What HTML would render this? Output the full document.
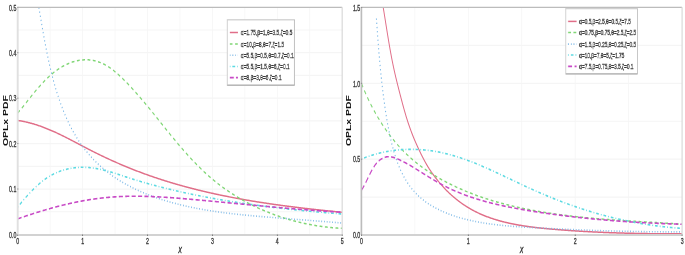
<!DOCTYPE html>
<html><head><meta charset="utf-8"><style>
html,body{margin:0;padding:0;background:#fff;overflow:hidden;}
svg{display:block;will-change:transform;filter:blur(0.25px);}
</style></head><body>
<svg width="685" height="255" viewBox="0 0 1070.312 255" preserveAspectRatio="none">
<defs>
<clipPath id="cl"><rect x="27.66" y="6.30" width="507.03" height="228.60"/></clipPath>
<clipPath id="cr"><rect x="564.69" y="6.30" width="501.09" height="228.60"/></clipPath>
</defs>
<g stroke="#f5f5f5" stroke-width="1.2"><line x1="78.36" y1="7.30" x2="78.36" y2="234.90"/><line x1="129.06" y1="7.30" x2="129.06" y2="234.90"/><line x1="179.77" y1="7.30" x2="179.77" y2="234.90"/><line x1="230.47" y1="7.30" x2="230.47" y2="234.90"/><line x1="281.17" y1="7.30" x2="281.17" y2="234.90"/><line x1="331.87" y1="7.30" x2="331.87" y2="234.90"/><line x1="382.58" y1="7.30" x2="382.58" y2="234.90"/><line x1="433.28" y1="7.30" x2="433.28" y2="234.90"/><line x1="483.98" y1="7.30" x2="483.98" y2="234.90"/><line x1="27.66" y1="211.74" x2="534.69" y2="211.74"/><line x1="27.66" y1="189.03" x2="534.69" y2="189.03"/><line x1="27.66" y1="166.31" x2="534.69" y2="166.31"/><line x1="27.66" y1="143.59" x2="534.69" y2="143.59"/><line x1="27.66" y1="120.88" x2="534.69" y2="120.88"/><line x1="27.66" y1="98.16" x2="534.69" y2="98.16"/><line x1="27.66" y1="75.44" x2="534.69" y2="75.44"/><line x1="27.66" y1="52.72" x2="534.69" y2="52.72"/><line x1="27.66" y1="30.01" x2="534.69" y2="30.01"/></g>
<g stroke="#f5f5f5" stroke-width="1.2"><line x1="648.20" y1="7.30" x2="648.20" y2="234.90"/><line x1="731.72" y1="7.30" x2="731.72" y2="234.90"/><line x1="815.23" y1="7.30" x2="815.23" y2="234.90"/><line x1="898.75" y1="7.30" x2="898.75" y2="234.90"/><line x1="982.27" y1="7.30" x2="982.27" y2="234.90"/><line x1="564.69" y1="197.15" x2="1065.78" y2="197.15"/><line x1="564.69" y1="159.20" x2="1065.78" y2="159.20"/><line x1="564.69" y1="121.25" x2="1065.78" y2="121.25"/><line x1="564.69" y1="83.30" x2="1065.78" y2="83.30"/><line x1="564.69" y1="45.35" x2="1065.78" y2="45.35"/></g>
<path d="M27.52,120.44 L28.57,120.54 L29.61,120.64 L30.64,120.75 L31.68,120.86 L32.71,120.97 L33.74,121.09 L34.77,121.21 L35.80,121.34 L36.82,121.47 L37.84,121.60 L38.86,121.74 L39.88,121.88 L40.89,122.03 L41.90,122.18 L42.91,122.33 L43.92,122.49 L44.92,122.65 L45.93,122.81 L46.93,122.98 L47.93,123.15 L48.93,123.32 L49.92,123.50 L50.92,123.68 L51.91,123.86 L52.90,124.05 L53.89,124.24 L54.87,124.43 L55.86,124.63 L56.84,124.83 L57.82,125.03 L58.80,125.24 L59.77,125.45 L60.75,125.66 L61.72,125.87 L62.70,126.09 L63.67,126.31 L64.63,126.53 L65.60,126.76 L66.57,126.98 L67.53,127.22 L68.49,127.45 L69.46,127.68 L70.41,127.92 L71.37,128.16 L72.33,128.41 L73.29,128.65 L74.24,128.90 L75.19,129.15 L76.14,129.40 L77.09,129.66 L78.04,129.91 L78.99,130.17 L79.94,130.43 L80.88,130.70 L81.83,130.96 L82.77,131.23 L83.71,131.50 L84.65,131.77 L85.59,132.04 L86.53,132.31 L87.47,132.59 L88.41,132.87 L89.34,133.14 L90.28,133.43 L91.21,133.71 L92.14,133.99 L93.08,134.28 L94.01,134.56 L94.94,134.85 L95.87,135.14 L96.80,135.43 L97.73,135.72 L98.65,136.02 L99.58,136.31 L100.51,136.61 L101.43,136.90 L102.36,137.20 L103.28,137.50 L104.21,137.80 L105.13,138.10 L106.05,138.40 L106.98,138.70 L107.90,139.00 L108.82,139.31 L109.74,139.61 L110.66,139.92 L111.58,140.22 L112.50,140.53 L113.42,140.84 L114.34,141.14 L115.26,141.45 L116.18,141.76 L117.10,142.07 L118.02,142.38 L118.94,142.69 L119.86,143.00 L120.78,143.31 L121.70,143.62 L122.61,143.93 L123.53,144.24 L124.45,144.55 L125.37,144.86 L126.29,145.17 L127.21,145.47 L128.12,145.78 L129.04,146.09 L129.96,146.40 L130.88,146.71 L131.80,147.02 L132.72,147.33 L133.64,147.64 L134.56,147.95 L135.48,148.25 L136.40,148.56 L137.32,148.86 L138.24,149.17 L139.17,149.47 L140.09,149.78 L141.01,150.08 L141.93,150.38 L142.86,150.69 L143.78,150.99 L144.71,151.29 L145.63,151.59 L146.56,151.88 L147.48,152.18 L148.41,152.48 L149.34,152.78 L150.27,153.07 L151.19,153.36 L152.12,153.66 L153.05,153.95 L153.98,154.24 L154.91,154.53 L155.84,154.82 L156.77,155.11 L157.71,155.40 L158.64,155.69 L159.57,155.97 L160.51,156.26 L161.44,156.54 L162.37,156.83 L163.31,157.11 L164.25,157.39 L165.18,157.68 L166.12,157.96 L167.06,158.24 L167.99,158.52 L168.93,158.79 L169.87,159.07 L170.81,159.35 L171.75,159.62 L172.69,159.90 L173.63,160.17 L174.57,160.44 L175.51,160.72 L176.46,160.99 L177.40,161.26 L178.34,161.53 L179.29,161.80 L180.23,162.07 L181.18,162.33 L182.12,162.60 L183.07,162.86 L184.02,163.13 L184.96,163.39 L185.91,163.65 L186.86,163.92 L187.81,164.18 L188.76,164.44 L189.71,164.70 L190.66,164.96 L191.61,165.21 L192.56,165.47 L193.51,165.73 L194.47,165.98 L195.42,166.24 L196.37,166.49 L197.33,166.74 L198.28,166.99 L199.24,167.24 L200.19,167.49 L201.15,167.74 L202.11,167.99 L203.06,168.24 L204.02,168.48 L204.98,168.73 L205.94,168.97 L206.90,169.22 L207.86,169.46 L208.82,169.70 L209.78,169.94 L210.74,170.19 L211.70,170.42 L212.67,170.66 L213.63,170.90 L214.59,171.14 L215.56,171.37 L216.52,171.61 L217.49,171.84 L218.46,172.08 L219.42,172.31 L220.39,172.54 L221.36,172.77 L222.32,173.00 L223.29,173.23 L224.26,173.46 L225.23,173.69 L226.20,173.91 L227.17,174.14 L228.15,174.36 L229.12,174.59 L230.09,174.81 L231.06,175.03 L232.04,175.25 L233.01,175.47 L233.99,175.69 L234.96,175.91 L235.94,176.13 L236.91,176.34 L237.89,176.56 L238.87,176.77 L239.85,176.99 L240.82,177.20 L241.80,177.41 L242.78,177.63 L243.76,177.84 L244.74,178.05 L245.72,178.26 L246.71,178.46 L247.69,178.67 L248.67,178.88 L249.65,179.08 L250.64,179.29 L251.62,179.49 L252.60,179.70 L253.59,179.90 L254.58,180.10 L255.56,180.30 L256.55,180.50 L257.53,180.70 L258.52,180.90 L259.51,181.09 L260.50,181.29 L261.49,181.49 L262.48,181.68 L263.47,181.88 L264.46,182.07 L265.45,182.26 L266.44,182.45 L267.43,182.64 L268.42,182.83 L269.41,183.02 L270.41,183.21 L271.40,183.40 L272.40,183.59 L273.39,183.77 L274.38,183.96 L275.38,184.14 L276.38,184.33 L277.37,184.51 L278.37,184.69 L279.36,184.87 L280.36,185.06 L281.36,185.24 L282.36,185.41 L283.36,185.59 L284.36,185.77 L285.36,185.95 L286.35,186.12 L287.36,186.30 L288.36,186.48 L289.36,186.65 L290.36,186.82 L291.36,186.99 L292.36,187.17 L293.37,187.34 L294.37,187.51 L295.37,187.68 L296.38,187.85 L297.38,188.01 L298.38,188.18 L299.39,188.35 L300.39,188.52 L301.40,188.68 L302.41,188.84 L303.41,189.01 L304.42,189.17 L305.43,189.33 L306.43,189.50 L307.44,189.66 L308.45,189.82 L309.46,189.98 L310.47,190.14 L311.48,190.29 L312.49,190.45 L313.50,190.61 L314.51,190.77 L315.52,190.92 L316.53,191.08 L317.54,191.23 L318.55,191.38 L319.56,191.54 L320.58,191.69 L321.59,191.84 L322.60,191.99 L323.62,192.14 L324.63,192.29 L325.64,192.44 L326.66,192.59 L327.67,192.73 L328.69,192.88 L329.70,193.03 L330.72,193.17 L331.73,193.32 L332.75,193.46 L333.77,193.61 L334.78,193.75 L335.80,193.89 L336.82,194.03 L337.83,194.17 L338.85,194.31 L339.87,194.45 L340.89,194.59 L341.91,194.73 L342.93,194.87 L343.94,195.01 L344.96,195.14 L345.98,195.28 L347.00,195.41 L348.02,195.55 L349.04,195.68 L350.06,195.82 L351.09,195.95 L352.11,196.08 L353.13,196.21 L354.15,196.35 L355.17,196.48 L356.19,196.61 L357.22,196.74 L358.24,196.87 L359.26,196.99 L360.29,197.12 L361.31,197.25 L362.33,197.38 L363.36,197.50 L364.38,197.63 L365.41,197.75 L366.43,197.88 L367.45,198.00 L368.48,198.12 L369.50,198.25 L370.53,198.37 L371.56,198.49 L372.58,198.61 L373.61,198.73 L374.63,198.85 L375.66,198.97 L376.69,199.09 L377.71,199.21 L378.74,199.32 L379.77,199.44 L380.79,199.56 L381.82,199.67 L382.85,199.79 L383.88,199.90 L384.90,200.02 L385.93,200.13 L386.96,200.25 L387.99,200.36 L389.02,200.47 L390.05,200.58 L391.08,200.69 L392.11,200.81 L393.13,200.92 L394.16,201.03 L395.19,201.13 L396.22,201.24 L397.25,201.35 L398.28,201.46 L399.31,201.57 L400.34,201.67 L401.37,201.78 L402.40,201.89 L403.43,201.99 L404.47,202.10 L405.50,202.20 L406.53,202.31 L407.56,202.41 L408.59,202.51 L409.62,202.61 L410.65,202.72 L411.68,202.82 L412.72,202.92 L413.75,203.02 L414.78,203.12 L415.81,203.22 L416.84,203.32 L417.88,203.42 L418.91,203.52 L419.94,203.61 L420.97,203.71 L422.01,203.81 L423.04,203.91 L424.07,204.00 L425.10,204.10 L426.14,204.19 L427.17,204.29 L428.20,204.38 L429.24,204.48 L430.27,204.57 L431.30,204.66 L432.33,204.76 L433.37,204.85 L434.40,204.94 L435.43,205.03 L436.47,205.12 L437.50,205.21 L438.54,205.31 L439.57,205.40 L440.60,205.48 L441.64,205.57 L442.67,205.66 L443.70,205.75 L444.74,205.84 L445.77,205.93 L446.81,206.01 L447.84,206.10 L448.87,206.19 L449.91,206.27 L450.94,206.36 L451.97,206.44 L453.01,206.53 L454.04,206.61 L455.08,206.70 L456.11,206.78 L457.14,206.87 L458.18,206.95 L459.21,207.03 L460.25,207.11 L461.28,207.20 L462.31,207.28 L463.35,207.36 L464.38,207.44 L465.42,207.52 L466.45,207.60 L467.48,207.68 L468.52,207.76 L469.55,207.84 L470.58,207.92 L471.62,208.00 L472.65,208.08 L473.68,208.15 L474.72,208.23 L475.75,208.31 L476.79,208.39 L477.82,208.46 L478.85,208.54 L479.89,208.62 L480.92,208.69 L481.95,208.77 L482.99,208.84 L484.02,208.92 L485.05,208.99 L486.08,209.07 L487.12,209.14 L488.15,209.21 L489.18,209.29 L490.22,209.36 L491.25,209.43 L492.28,209.51 L493.31,209.58 L494.34,209.65 L495.38,209.72 L496.41,209.79 L497.44,209.86 L498.47,209.94 L499.50,210.01 L500.54,210.08 L501.57,210.15 L502.60,210.22 L503.63,210.29 L504.66,210.36 L505.69,210.42 L506.72,210.49 L507.76,210.56 L508.79,210.63 L509.82,210.70 L510.85,210.77 L511.88,210.83 L512.91,210.90 L513.94,210.97 L514.97,211.04 L516.00,211.10 L517.03,211.17 L518.06,211.24 L519.09,211.30 L520.12,211.37 L521.15,211.43 L522.17,211.50 L523.20,211.56 L524.23,211.63 L525.26,211.69 L526.29,211.76 L527.32,211.82 L528.35,211.89 L529.37,211.95 L530.40,212.01 L531.43,212.08 L532.46,212.14 L533.48,212.20 L534.51,212.27" fill="none" stroke="#e06e88" stroke-width="1.5" clip-path="url(#cl)"/>
<path d="M27.49,113.09 L28.16,112.60 L28.82,112.11 L29.47,111.62 L30.13,111.13 L30.79,110.63 L31.44,110.14 L32.09,109.64 L32.75,109.14 L33.40,108.63 L34.05,108.13 L34.70,107.62 L35.34,107.11 L35.99,106.60 L36.64,106.09 L37.29,105.57 L37.93,105.06 L38.58,104.54 L39.22,104.03 L39.87,103.51 L40.52,102.99 L41.16,102.47 L41.81,101.94 L42.46,101.42 L43.10,100.90 L43.75,100.38 L44.40,99.85 L45.05,99.33 L45.70,98.80 L46.35,98.28 L47.00,97.75 L47.65,97.22 L48.31,96.70 L48.96,96.17 L49.62,95.65 L50.28,95.12 L50.94,94.60 L51.60,94.07 L52.26,93.55 L52.92,93.02 L53.59,92.50 L54.26,91.98 L54.93,91.46 L55.60,90.94 L56.28,90.42 L56.96,89.90 L57.64,89.38 L58.32,88.86 L59.01,88.35 L59.70,87.83 L60.39,87.32 L61.08,86.81 L61.78,86.30 L62.48,85.79 L63.18,85.29 L63.89,84.78 L64.60,84.28 L65.32,83.78 L66.03,83.28 L66.76,82.79 L67.48,82.30 L68.21,81.80 L68.94,81.32 L69.68,80.83 L70.42,80.35 L71.17,79.87 L71.92,79.39 L72.67,78.91 L73.43,78.44 L74.19,77.98 L74.96,77.51 L75.73,77.05 L76.50,76.59 L77.28,76.14 L78.07,75.69 L78.85,75.24 L79.64,74.80 L80.44,74.36 L81.24,73.93 L82.04,73.50 L82.85,73.07 L83.67,72.65 L84.48,72.23 L85.30,71.82 L86.13,71.42 L86.96,71.01 L87.79,70.62 L88.63,70.23 L89.48,69.84 L90.33,69.46 L91.18,69.09 L92.04,68.72 L92.90,68.35 L93.76,68.00 L94.63,67.65 L95.51,67.30 L96.39,66.96 L97.27,66.63 L98.16,66.30 L99.05,65.98 L99.95,65.67 L100.85,65.36 L101.76,65.06 L102.67,64.77 L103.59,64.49 L104.51,64.21 L105.44,63.94 L106.37,63.67 L107.30,63.42 L108.24,63.17 L109.19,62.93 L110.14,62.70 L111.09,62.47 L112.05,62.26 L113.02,62.05 L113.98,61.85 L114.96,61.66 L115.94,61.48 L116.92,61.30 L117.91,61.14 L118.90,60.98 L119.90,60.83 L120.91,60.69 L121.91,60.57 L122.93,60.45 L123.94,60.34 L124.97,60.24 L125.99,60.14 L127.02,60.06 L128.05,59.99 L129.08,59.93 L130.11,59.88 L131.15,59.84 L132.18,59.81 L133.22,59.79 L134.25,59.78 L135.29,59.78 L136.32,59.79 L137.35,59.81 L138.38,59.85 L139.41,59.89 L140.43,59.95 L141.45,60.01 L142.47,60.09 L143.48,60.18 L144.49,60.28 L145.49,60.40 L146.49,60.52 L147.48,60.66 L148.46,60.81 L149.44,60.97 L150.41,61.14 L151.38,61.32 L152.35,61.51 L153.30,61.71 L154.26,61.93 L155.20,62.15 L156.15,62.38 L157.08,62.62 L158.02,62.88 L158.94,63.14 L159.87,63.41 L160.78,63.69 L161.70,63.98 L162.60,64.27 L163.51,64.58 L164.40,64.89 L165.30,65.21 L166.18,65.54 L167.07,65.88 L167.95,66.22 L168.82,66.57 L169.69,66.93 L170.56,67.30 L171.42,67.67 L172.28,68.05 L173.13,68.43 L173.98,68.82 L174.82,69.22 L175.66,69.62 L176.50,70.03 L177.33,70.45 L178.16,70.86 L178.98,71.29 L179.80,71.72 L180.62,72.15 L181.43,72.59 L182.24,73.03 L183.04,73.48 L183.84,73.93 L184.64,74.38 L185.43,74.84 L186.22,75.30 L187.01,75.76 L187.79,76.23 L188.57,76.69 L189.34,77.17 L190.11,77.64 L190.88,78.12 L191.65,78.59 L192.41,79.07 L193.17,79.56 L193.93,80.04 L194.68,80.52 L195.43,81.01 L196.18,81.49 L196.92,81.98 L197.66,82.47 L198.40,82.96 L199.13,83.44 L199.87,83.93 L200.60,84.42 L201.32,84.91 L202.05,85.40 L202.77,85.89 L203.49,86.38 L204.20,86.87 L204.92,87.36 L205.63,87.86 L206.34,88.35 L207.04,88.84 L207.75,89.33 L208.45,89.83 L209.15,90.32 L209.85,90.82 L210.54,91.31 L211.24,91.81 L211.93,92.30 L212.62,92.80 L213.31,93.30 L213.99,93.80 L214.68,94.29 L215.36,94.79 L216.04,95.29 L216.72,95.79 L217.39,96.29 L218.07,96.79 L218.74,97.29 L219.41,97.79 L220.08,98.29 L220.75,98.79 L221.42,99.29 L222.09,99.80 L222.75,100.30 L223.42,100.80 L224.08,101.31 L224.74,101.81 L225.40,102.32 L226.06,102.82 L226.72,103.33 L227.37,103.83 L228.03,104.34 L228.68,104.84 L229.34,105.35 L229.99,105.86 L230.64,106.37 L231.29,106.88 L231.95,107.38 L232.60,107.89 L233.25,108.40 L233.89,108.91 L234.54,109.42 L235.19,109.93 L235.84,110.44 L236.49,110.96 L237.13,111.47 L237.78,111.98 L238.43,112.49 L239.07,113.01 L239.72,113.52 L240.37,114.03 L241.01,114.55 L241.66,115.06 L242.30,115.58 L242.95,116.09 L243.59,116.61 L244.24,117.12 L244.89,117.64 L245.53,118.16 L246.18,118.67 L246.83,119.19 L247.47,119.71 L248.12,120.23 L248.77,120.75 L249.42,121.26 L250.06,121.78 L250.71,122.30 L251.36,122.82 L252.01,123.34 L252.66,123.86 L253.31,124.38 L253.96,124.90 L254.61,125.42 L255.26,125.94 L255.91,126.46 L256.56,126.98 L257.21,127.50 L257.86,128.02 L258.52,128.54 L259.17,129.06 L259.82,129.58 L260.48,130.10 L261.13,130.62 L261.79,131.14 L262.44,131.66 L263.10,132.18 L263.76,132.70 L264.42,133.21 L265.07,133.73 L265.73,134.25 L266.39,134.77 L267.05,135.29 L267.71,135.81 L268.38,136.32 L269.04,136.84 L269.70,137.36 L270.37,137.88 L271.03,138.39 L271.70,138.91 L272.36,139.43 L273.03,139.94 L273.70,140.46 L274.37,140.97 L275.04,141.49 L275.71,142.00 L276.38,142.51 L277.05,143.03 L277.73,143.54 L278.40,144.05 L279.08,144.56 L279.76,145.07 L280.43,145.58 L281.11,146.09 L281.79,146.60 L282.47,147.11 L283.15,147.62 L283.84,148.12 L284.52,148.63 L285.21,149.14 L285.89,149.64 L286.58,150.15 L287.27,150.65 L287.96,151.15 L288.65,151.66 L289.34,152.16 L290.04,152.66 L290.73,153.16 L291.43,153.66 L292.13,154.15 L292.82,154.65 L293.53,155.15 L294.23,155.64 L294.93,156.14 L295.63,156.63 L296.34,157.12 L297.05,157.62 L297.76,158.11 L298.47,158.60 L299.18,159.08 L299.89,159.57 L300.60,160.06 L301.32,160.54 L302.04,161.03 L302.76,161.51 L303.48,161.99 L304.20,162.47 L304.92,162.95 L305.65,163.43 L306.38,163.91 L307.10,164.39 L307.83,164.86 L308.57,165.34 L309.30,165.81 L310.04,166.28 L310.77,166.75 L311.51,167.22 L312.25,167.69 L313.00,168.15 L313.74,168.62 L314.49,169.08 L315.23,169.54 L315.98,170.00 L316.73,170.46 L317.49,170.92 L318.24,171.37 L319.00,171.83 L319.76,172.28 L320.52,172.73 L321.28,173.18 L322.05,173.63 L322.82,174.08 L323.59,174.53 L324.36,174.97 L325.13,175.41 L325.91,175.85 L326.68,176.29 L327.46,176.73 L328.24,177.16 L329.03,177.60 L329.81,178.03 L330.60,178.46 L331.39,178.89 L332.18,179.32 L332.98,179.74 L333.77,180.16 L334.57,180.59 L335.37,181.01 L336.18,181.42 L336.98,181.84 L337.79,182.25 L338.60,182.67 L339.41,183.08 L340.23,183.49 L341.04,183.89 L341.86,184.30 L342.68,184.70 L343.50,185.10 L344.33,185.50 L345.16,185.90 L345.98,186.30 L346.82,186.69 L347.65,187.08 L348.48,187.48 L349.32,187.86 L350.16,188.25 L351.00,188.64 L351.84,189.02 L352.69,189.40 L353.53,189.78 L354.38,190.16 L355.23,190.54 L356.09,190.91 L356.94,191.28 L357.80,191.66 L358.66,192.02 L359.52,192.39 L360.38,192.76 L361.25,193.12 L362.11,193.48 L362.98,193.84 L363.85,194.20 L364.72,194.56 L365.59,194.91 L366.47,195.26 L367.35,195.62 L368.23,195.96 L369.11,196.31 L369.99,196.66 L370.87,197.00 L371.76,197.34 L372.65,197.68 L373.54,198.02 L374.43,198.36 L375.32,198.69 L376.22,199.02 L377.11,199.36 L378.01,199.68 L378.91,200.01 L379.81,200.34 L380.72,200.66 L381.62,200.98 L382.53,201.30 L383.44,201.62 L384.35,201.94 L385.26,202.25 L386.17,202.56 L387.09,202.87 L388.00,203.18 L388.92,203.49 L389.84,203.80 L390.76,204.10 L391.69,204.40 L392.61,204.70 L393.53,205.00 L394.46,205.29 L395.39,205.59 L396.32,205.88 L397.25,206.17 L398.19,206.46 L399.12,206.75 L400.06,207.03 L400.99,207.32 L401.93,207.60 L402.87,207.88 L403.82,208.15 L404.76,208.43 L405.70,208.70 L406.65,208.98 L407.60,209.25 L408.54,209.51 L409.49,209.78 L410.45,210.05 L411.40,210.31 L412.35,210.57 L413.31,210.83 L414.27,211.09 L415.22,211.34 L416.18,211.60 L417.14,211.85 L418.11,212.10 L419.07,212.35 L420.03,212.59 L421.00,212.84 L421.96,213.08 L422.93,213.32 L423.90,213.56 L424.87,213.80 L425.84,214.03 L426.82,214.26 L427.79,214.50 L428.77,214.73 L429.74,214.95 L430.72,215.18 L431.70,215.40 L432.68,215.63 L433.66,215.85 L434.64,216.06 L435.62,216.28 L436.61,216.50 L437.59,216.71 L438.58,216.92 L439.57,217.13 L440.55,217.34 L441.54,217.54 L442.53,217.74 L443.52,217.95 L444.52,218.15 L445.51,218.34 L446.50,218.54 L447.50,218.73 L448.49,218.93 L449.49,219.12 L450.49,219.31 L451.49,219.49 L452.49,219.68 L453.49,219.86 L454.49,220.04 L455.49,220.22 L456.50,220.40 L457.50,220.57 L458.51,220.75 L459.51,220.92 L460.52,221.09 L461.53,221.26 L462.53,221.42 L463.54,221.59 L464.55,221.75 L465.56,221.91 L466.58,222.07 L467.59,222.23 L468.60,222.38 L469.62,222.53 L470.63,222.69 L471.64,222.84 L472.66,222.98 L473.68,223.13 L474.69,223.27 L475.71,223.41 L476.73,223.55 L477.75,223.69 L478.77,223.83 L479.79,223.96 L480.81,224.09 L481.83,224.23 L482.86,224.35 L483.88,224.48 L484.90,224.61 L485.93,224.73 L486.95,224.85 L487.98,224.97 L489.00,225.09 L490.03,225.20 L491.06,225.31 L492.09,225.43 L493.11,225.54 L494.14,225.64 L495.17,225.75 L496.20,225.85 L497.23,225.96 L498.26,226.06 L499.29,226.16 L500.32,226.25 L501.36,226.35 L502.39,226.44 L503.42,226.53 L504.45,226.62 L505.49,226.71 L506.52,226.79 L507.56,226.87 L508.59,226.96 L509.63,227.04 L510.66,227.11 L511.70,227.19 L512.73,227.26 L513.77,227.33 L514.80,227.40 L515.84,227.47 L516.88,227.54 L517.92,227.60 L518.95,227.66 L519.99,227.73 L521.03,227.78 L522.07,227.84 L523.11,227.90 L524.15,227.95 L525.18,228.00 L526.22,228.05 L527.26,228.09 L528.30,228.14 L529.34,228.18 L530.38,228.22 L531.42,228.26 L532.46,228.30 L533.50,228.34 L534.54,228.37" fill="none" stroke="#80d676" stroke-width="1.5" stroke-dasharray="4.4,3.9" clip-path="url(#cl)"/>
<path d="M60.74,7.43 L60.91,8.08 L61.08,8.72 L61.25,9.37 L61.42,10.01 L61.59,10.66 L61.76,11.30 L61.93,11.95 L62.10,12.59 L62.27,13.24 L62.44,13.89 L62.61,14.53 L62.79,15.18 L62.96,15.83 L63.13,16.48 L63.30,17.13 L63.47,17.77 L63.64,18.42 L63.81,19.07 L63.98,19.72 L64.15,20.37 L64.33,21.02 L64.50,21.67 L64.67,22.32 L64.84,22.97 L65.02,23.62 L65.19,24.27 L65.36,24.92 L65.54,25.58 L65.71,26.23 L65.89,26.88 L66.06,27.53 L66.24,28.18 L66.42,28.84 L66.59,29.49 L66.77,30.14 L66.95,30.79 L67.13,31.45 L67.31,32.10 L67.49,32.75 L67.67,33.40 L67.85,34.06 L68.03,34.71 L68.21,35.37 L68.39,36.02 L68.58,36.67 L68.76,37.33 L68.95,37.98 L69.13,38.63 L69.32,39.29 L69.51,39.94 L69.70,40.60 L69.89,41.25 L70.08,41.91 L70.27,42.56 L70.46,43.21 L70.65,43.87 L70.84,44.52 L71.04,45.18 L71.23,45.83 L71.43,46.49 L71.63,47.14 L71.83,47.80 L72.03,48.45 L72.23,49.10 L72.43,49.76 L72.63,50.41 L72.83,51.07 L73.04,51.72 L73.25,52.38 L73.45,53.03 L73.66,53.69 L73.87,54.34 L74.08,54.99 L74.29,55.65 L74.51,56.30 L74.72,56.96 L74.94,57.61 L75.15,58.26 L75.37,58.92 L75.59,59.57 L75.81,60.22 L76.04,60.88 L76.26,61.53 L76.49,62.18 L76.71,62.84 L76.94,63.49 L77.17,64.14 L77.40,64.79 L77.63,65.45 L77.87,66.10 L78.10,66.75 L78.34,67.40 L78.58,68.05 L78.82,68.71 L79.06,69.36 L79.31,70.01 L79.55,70.66 L79.80,71.31 L80.05,71.96 L80.30,72.61 L80.55,73.26 L80.80,73.91 L81.06,74.56 L81.32,75.21 L81.58,75.86 L81.84,76.51 L82.10,77.15 L82.36,77.80 L82.63,78.45 L82.90,79.10 L83.17,79.75 L83.44,80.39 L83.72,81.04 L83.99,81.69 L84.27,82.33 L84.55,82.98 L84.83,83.62 L85.12,84.27 L85.40,84.91 L85.69,85.56 L85.98,86.20 L86.27,86.85 L86.57,87.49 L86.87,88.13 L87.16,88.78 L87.47,89.42 L87.77,90.06 L88.07,90.70 L88.38,91.34 L88.69,91.99 L89.00,92.63 L89.32,93.27 L89.64,93.91 L89.96,94.55 L90.28,95.18 L90.60,95.82 L90.93,96.46 L91.26,97.10 L91.59,97.73 L91.92,98.37 L92.26,99.01 L92.60,99.64 L92.94,100.27 L93.28,100.91 L93.63,101.54 L93.98,102.17 L94.33,102.80 L94.68,103.44 L95.04,104.07 L95.40,104.70 L95.76,105.32 L96.13,105.95 L96.49,106.58 L96.87,107.21 L97.24,107.83 L97.61,108.46 L97.99,109.08 L98.38,109.70 L98.76,110.33 L99.15,110.95 L99.54,111.57 L99.93,112.19 L100.33,112.80 L100.73,113.42 L101.13,114.04 L101.53,114.65 L101.94,115.27 L102.35,115.88 L102.77,116.49 L103.19,117.10 L103.61,117.71 L104.03,118.32 L104.46,118.93 L104.89,119.54 L105.32,120.14 L105.76,120.75 L106.20,121.35 L106.64,121.95 L107.09,122.55 L107.54,123.15 L107.99,123.75 L108.45,124.35 L108.91,124.94 L109.37,125.54 L109.84,126.13 L110.31,126.72 L110.78,127.31 L111.26,127.90 L111.74,128.49 L112.22,129.08 L112.71,129.66 L113.20,130.24 L113.70,130.82 L114.19,131.40 L114.70,131.98 L115.20,132.56 L115.71,133.14 L116.22,133.71 L116.74,134.28 L117.26,134.85 L117.79,135.42 L118.31,135.99 L118.85,136.56 L119.38,137.12 L119.92,137.68 L120.47,138.24 L121.01,138.80 L121.56,139.36 L122.12,139.92 L122.68,140.47 L123.24,141.02 L123.81,141.57 L124.38,142.12 L124.95,142.67 L125.53,143.21 L126.12,143.75 L126.70,144.30 L127.30,144.83 L127.89,145.37 L128.49,145.91 L129.09,146.44 L129.70,146.97 L130.31,147.50 L130.93,148.03 L131.55,148.55 L132.18,149.08 L132.81,149.60 L133.44,150.12 L134.08,150.63 L134.72,151.15 L135.37,151.66 L136.02,152.17 L136.67,152.68 L137.33,153.19 L138.00,153.69 L138.66,154.19 L139.34,154.69 L140.01,155.19 L140.69,155.69 L141.38,156.18 L142.06,156.67 L142.76,157.16 L143.45,157.65 L144.15,158.13 L144.86,158.61 L145.56,159.09 L146.28,159.57 L146.99,160.05 L147.71,160.52 L148.43,160.99 L149.16,161.46 L149.89,161.92 L150.63,162.39 L151.37,162.85 L152.11,163.31 L152.85,163.76 L153.60,164.22 L154.35,164.67 L155.11,165.12 L155.87,165.57 L156.63,166.01 L157.40,166.45 L158.17,166.89 L158.94,167.33 L159.72,167.76 L160.50,168.19 L161.29,168.62 L162.07,169.05 L162.86,169.47 L163.66,169.90 L164.46,170.31 L165.26,170.73 L166.06,171.15 L166.87,171.56 L167.68,171.97 L168.49,172.37 L169.31,172.77 L170.13,173.18 L170.95,173.57 L171.77,173.97 L172.60,174.36 L173.43,174.75 L174.27,175.14 L175.11,175.53 L175.95,175.91 L176.79,176.29 L177.64,176.67 L178.49,177.04 L179.34,177.41 L180.19,177.78 L181.05,178.15 L181.91,178.51 L182.77,178.88 L183.64,179.24 L184.51,179.59 L185.38,179.95 L186.25,180.30 L187.13,180.65 L188.01,181.00 L188.89,181.34 L189.77,181.68 L190.66,182.02 L191.55,182.36 L192.44,182.70 L193.33,183.03 L194.23,183.36 L195.13,183.69 L196.03,184.01 L196.93,184.34 L197.83,184.66 L198.74,184.98 L199.65,185.29 L200.56,185.61 L201.48,185.92 L202.39,186.23 L203.31,186.54 L204.23,186.84 L205.16,187.15 L206.08,187.45 L207.01,187.74 L207.94,188.04 L208.87,188.33 L209.80,188.63 L210.74,188.92 L211.67,189.20 L212.61,189.49 L213.55,189.77 L214.50,190.05 L215.44,190.33 L216.39,190.61 L217.33,190.88 L218.28,191.16 L219.23,191.43 L220.19,191.69 L221.14,191.96 L222.10,192.22 L223.06,192.49 L224.01,192.75 L224.98,193.01 L225.94,193.26 L226.90,193.52 L227.87,193.77 L228.84,194.02 L229.80,194.27 L230.77,194.51 L231.74,194.76 L232.72,195.00 L233.69,195.24 L234.67,195.48 L235.64,195.71 L236.62,195.95 L237.60,196.18 L238.58,196.41 L239.56,196.64 L240.55,196.87 L241.53,197.09 L242.51,197.32 L243.50,197.54 L244.49,197.76 L245.48,197.98 L246.46,198.19 L247.45,198.41 L248.45,198.62 L249.44,198.83 L250.43,199.04 L251.42,199.25 L252.42,199.46 L253.41,199.66 L254.41,199.86 L255.41,200.06 L256.41,200.26 L257.41,200.46 L258.40,200.65 L259.40,200.85 L260.41,201.04 L261.41,201.23 L262.41,201.42 L263.41,201.61 L264.41,201.79 L265.42,201.98 L266.42,202.16 L267.43,202.34 L268.43,202.52 L269.44,202.70 L270.44,202.88 L271.45,203.05 L272.46,203.23 L273.46,203.40 L274.47,203.57 L275.48,203.74 L276.49,203.91 L277.50,204.07 L278.51,204.24 L279.52,204.40 L280.53,204.56 L281.54,204.72 L282.55,204.88 L283.56,205.04 L284.57,205.19 L285.58,205.35 L286.60,205.50 L287.61,205.65 L288.62,205.80 L289.64,205.95 L290.65,206.10 L291.67,206.25 L292.68,206.39 L293.70,206.54 L294.71,206.68 L295.73,206.82 L296.74,206.96 L297.76,207.10 L298.78,207.24 L299.79,207.37 L300.81,207.51 L301.83,207.64 L302.85,207.78 L303.87,207.91 L304.89,208.04 L305.91,208.17 L306.93,208.29 L307.95,208.42 L308.97,208.54 L309.99,208.67 L311.01,208.79 L312.03,208.91 L313.05,209.03 L314.07,209.15 L315.10,209.27 L316.12,209.39 L317.14,209.51 L318.16,209.62 L319.19,209.74 L320.21,209.85 L321.24,209.96 L322.26,210.07 L323.28,210.18 L324.31,210.29 L325.33,210.40 L326.36,210.50 L327.39,210.61 L328.41,210.71 L329.44,210.82 L330.47,210.92 L331.49,211.02 L332.52,211.12 L333.55,211.22 L334.57,211.32 L335.60,211.42 L336.63,211.52 L337.66,211.61 L338.69,211.71 L339.72,211.80 L340.75,211.90 L341.78,211.99 L342.80,212.08 L343.83,212.17 L344.86,212.26 L345.90,212.35 L346.93,212.44 L347.96,212.53 L348.99,212.62 L350.02,212.70 L351.05,212.79 L352.08,212.87 L353.11,212.96 L354.15,213.04 L355.18,213.12 L356.21,213.20 L357.24,213.28 L358.28,213.36 L359.31,213.44 L360.34,213.52 L361.38,213.60 L362.41,213.68 L363.44,213.75 L364.48,213.83 L365.51,213.91 L366.55,213.98 L367.58,214.05 L368.62,214.13 L369.65,214.20 L370.69,214.27 L371.72,214.34 L372.76,214.42 L373.79,214.49 L374.83,214.56 L375.86,214.62 L376.90,214.69 L377.94,214.76 L378.97,214.83 L380.01,214.90 L381.05,214.96 L382.08,215.03 L383.12,215.10 L384.16,215.16 L385.19,215.23 L386.23,215.29 L387.27,215.35 L388.31,215.42 L389.34,215.48 L390.38,215.54 L391.42,215.60 L392.46,215.67 L393.50,215.73 L394.53,215.79 L395.57,215.85 L396.61,215.91 L397.65,215.97 L398.69,216.03 L399.73,216.09 L400.76,216.15 L401.80,216.21 L402.84,216.26 L403.88,216.32 L404.92,216.38 L405.96,216.44 L407.00,216.49 L408.04,216.55 L409.08,216.61 L410.12,216.66 L411.16,216.72 L412.20,216.77 L413.24,216.83 L414.27,216.89 L415.31,216.94 L416.35,217.00 L417.39,217.05 L418.43,217.11 L419.47,217.16 L420.51,217.21 L421.55,217.27 L422.59,217.32 L423.63,217.38 L424.67,217.43 L425.71,217.48 L426.75,217.54 L427.79,217.59 L428.83,217.65 L429.87,217.70 L430.91,217.75 L431.95,217.81 L432.99,217.86 L434.03,217.91 L435.07,217.97 L436.11,218.02 L437.15,218.07 L438.19,218.12 L439.23,218.18 L440.27,218.23 L441.32,218.28 L442.36,218.34 L443.40,218.39 L444.44,218.44 L445.48,218.49 L446.51,218.55 L447.55,218.60 L448.59,218.65 L449.63,218.70 L450.67,218.76 L451.71,218.81 L452.75,218.86 L453.79,218.91 L454.83,218.96 L455.87,219.02 L456.91,219.07 L457.95,219.12 L458.99,219.17 L460.03,219.22 L461.07,219.28 L462.11,219.33 L463.15,219.38 L464.19,219.43 L465.23,219.48 L466.26,219.54 L467.30,219.59 L468.34,219.64 L469.38,219.69 L470.42,219.74 L471.46,219.80 L472.50,219.85 L473.53,219.90 L474.57,219.95 L475.61,220.00 L476.65,220.06 L477.69,220.11 L478.72,220.16 L479.76,220.21 L480.80,220.26 L481.84,220.32 L482.87,220.37 L483.91,220.42 L484.95,220.47 L485.98,220.52 L487.02,220.58 L488.06,220.63 L489.09,220.68 L490.13,220.73 L491.16,220.78 L492.20,220.84 L493.24,220.89 L494.27,220.94 L495.31,220.99 L496.34,221.05 L497.38,221.10 L498.41,221.15 L499.45,221.20 L500.48,221.25 L501.52,221.31 L502.55,221.36 L503.59,221.41 L504.62,221.46 L505.65,221.52 L506.69,221.57 L507.72,221.62 L508.75,221.68 L509.79,221.73 L510.82,221.78 L511.85,221.83 L512.88,221.89 L513.92,221.94 L514.95,221.99 L515.98,222.05 L517.01,222.10 L518.04,222.15 L519.07,222.21 L520.10,222.26 L521.13,222.31 L522.17,222.37 L523.20,222.42 L524.23,222.48 L525.26,222.53 L526.28,222.58 L527.31,222.64 L528.34,222.69 L529.37,222.75 L530.40,222.80 L531.43,222.86 L532.46,222.91 L533.48,222.97 L534.51,223.02" fill="none" stroke="#78b6e6" stroke-width="1.6" stroke-dasharray="1.3,2.95" clip-path="url(#cl)"/>
<path d="M27.53,207.02 L28.18,206.53 L28.84,206.03 L29.49,205.53 L30.15,205.02 L30.81,204.52 L31.48,204.02 L32.14,203.51 L32.81,203.01 L33.48,202.50 L34.15,201.99 L34.83,201.48 L35.50,200.98 L36.18,200.47 L36.87,199.96 L37.55,199.45 L38.24,198.94 L38.93,198.43 L39.62,197.93 L40.32,197.42 L41.01,196.91 L41.71,196.41 L42.42,195.90 L43.13,195.40 L43.84,194.89 L44.55,194.39 L45.27,193.89 L45.98,193.39 L46.71,192.89 L47.43,192.40 L48.16,191.90 L48.89,191.41 L49.63,190.92 L50.37,190.43 L51.11,189.95 L51.86,189.47 L52.61,188.98 L53.36,188.51 L54.12,188.03 L54.88,187.56 L55.65,187.09 L56.41,186.63 L57.19,186.16 L57.96,185.70 L58.74,185.25 L59.53,184.80 L60.32,184.35 L61.11,183.91 L61.90,183.47 L62.71,183.03 L63.51,182.60 L64.32,182.17 L65.13,181.75 L65.95,181.33 L66.78,180.92 L67.60,180.51 L68.43,180.11 L69.27,179.71 L70.11,179.32 L70.96,178.93 L71.81,178.55 L72.66,178.17 L73.52,177.80 L74.39,177.44 L75.26,177.08 L76.13,176.73 L77.01,176.38 L77.90,176.04 L78.79,175.71 L79.69,175.39 L80.59,175.07 L81.49,174.75 L82.40,174.45 L83.32,174.15 L84.24,173.85 L85.16,173.57 L86.09,173.29 L87.02,173.01 L87.96,172.75 L88.90,172.48 L89.84,172.23 L90.79,171.98 L91.75,171.74 L92.70,171.51 L93.66,171.28 L94.63,171.06 L95.59,170.84 L96.57,170.63 L97.54,170.43 L98.52,170.23 L99.50,170.04 L100.48,169.86 L101.47,169.68 L102.46,169.51 L103.45,169.35 L104.44,169.19 L105.44,169.04 L106.44,168.89 L107.44,168.75 L108.44,168.62 L109.45,168.49 L110.45,168.38 L111.46,168.26 L112.48,168.15 L113.49,168.05 L114.50,167.96 L115.52,167.87 L116.54,167.79 L117.55,167.71 L118.57,167.64 L119.60,167.58 L120.62,167.52 L121.64,167.47 L122.67,167.43 L123.69,167.39 L124.71,167.36 L125.74,167.33 L126.77,167.31 L127.79,167.30 L128.82,167.29 L129.85,167.29 L130.87,167.29 L131.90,167.30 L132.93,167.32 L133.95,167.34 L134.98,167.37 L136.01,167.41 L137.03,167.45 L138.06,167.50 L139.08,167.55 L140.10,167.61 L141.13,167.68 L142.15,167.75 L143.17,167.82 L144.19,167.90 L145.21,167.99 L146.23,168.08 L147.25,168.18 L148.27,168.28 L149.29,168.39 L150.31,168.50 L151.32,168.62 L152.34,168.74 L153.36,168.86 L154.37,168.99 L155.39,169.13 L156.40,169.26 L157.42,169.41 L158.43,169.55 L159.45,169.70 L160.46,169.86 L161.47,170.01 L162.48,170.17 L163.50,170.34 L164.51,170.50 L165.52,170.67 L166.53,170.85 L167.54,171.02 L168.55,171.20 L169.56,171.38 L170.57,171.56 L171.58,171.75 L172.59,171.94 L173.60,172.13 L174.60,172.32 L175.61,172.52 L176.62,172.71 L177.63,172.91 L178.63,173.11 L179.64,173.32 L180.64,173.52 L181.65,173.72 L182.66,173.93 L183.66,174.14 L184.67,174.35 L185.67,174.55 L186.68,174.76 L187.68,174.98 L188.68,175.19 L189.69,175.40 L190.69,175.61 L191.70,175.82 L192.70,176.04 L193.70,176.25 L194.70,176.46 L195.71,176.67 L196.71,176.89 L197.71,177.10 L198.71,177.31 L199.72,177.52 L200.72,177.73 L201.72,177.94 L202.72,178.15 L203.72,178.35 L204.72,178.56 L205.73,178.77 L206.73,178.97 L207.73,179.17 L208.73,179.37 L209.73,179.57 L210.73,179.77 L211.73,179.97 L212.73,180.17 L213.73,180.37 L214.74,180.56 L215.74,180.76 L216.74,180.95 L217.74,181.14 L218.74,181.34 L219.74,181.53 L220.74,181.72 L221.74,181.90 L222.74,182.09 L223.74,182.28 L224.74,182.46 L225.74,182.65 L226.75,182.83 L227.75,183.02 L228.75,183.20 L229.75,183.38 L230.75,183.56 L231.75,183.74 L232.75,183.92 L233.75,184.10 L234.76,184.28 L235.76,184.45 L236.76,184.63 L237.76,184.80 L238.76,184.98 L239.77,185.15 L240.77,185.32 L241.77,185.49 L242.78,185.66 L243.78,185.83 L244.78,186.00 L245.79,186.17 L246.79,186.34 L247.79,186.51 L248.80,186.67 L249.80,186.84 L250.81,187.00 L251.81,187.17 L252.82,187.33 L253.82,187.50 L254.83,187.66 L255.83,187.82 L256.84,187.98 L257.85,188.14 L258.85,188.30 L259.86,188.46 L260.87,188.62 L261.87,188.78 L262.88,188.94 L263.89,189.09 L264.90,189.25 L265.91,189.40 L266.92,189.56 L267.93,189.71 L268.94,189.87 L269.95,190.02 L270.96,190.17 L271.97,190.33 L272.98,190.48 L273.99,190.63 L275.00,190.78 L276.01,190.93 L277.02,191.08 L278.03,191.22 L279.05,191.37 L280.06,191.52 L281.07,191.67 L282.08,191.81 L283.10,191.96 L284.11,192.10 L285.12,192.25 L286.14,192.39 L287.15,192.53 L288.17,192.68 L289.18,192.82 L290.20,192.96 L291.21,193.10 L292.23,193.24 L293.24,193.38 L294.26,193.52 L295.28,193.66 L296.29,193.80 L297.31,193.94 L298.33,194.07 L299.34,194.21 L300.36,194.35 L301.38,194.48 L302.40,194.62 L303.41,194.75 L304.43,194.88 L305.45,195.02 L306.47,195.15 L307.49,195.28 L308.51,195.41 L309.53,195.54 L310.55,195.67 L311.57,195.80 L312.59,195.93 L313.61,196.06 L314.63,196.19 L315.65,196.32 L316.67,196.45 L317.69,196.57 L318.71,196.70 L319.73,196.82 L320.75,196.95 L321.78,197.07 L322.80,197.20 L323.82,197.32 L324.84,197.45 L325.86,197.57 L326.89,197.69 L327.91,197.81 L328.93,197.93 L329.96,198.05 L330.98,198.17 L332.00,198.29 L333.03,198.41 L334.05,198.53 L335.08,198.65 L336.10,198.77 L337.13,198.88 L338.15,199.00 L339.18,199.11 L340.20,199.23 L341.23,199.35 L342.25,199.46 L343.28,199.57 L344.30,199.69 L345.33,199.80 L346.36,199.91 L347.38,200.03 L348.41,200.14 L349.44,200.25 L350.46,200.36 L351.49,200.47 L352.52,200.58 L353.55,200.69 L354.57,200.80 L355.60,200.91 L356.63,201.01 L357.66,201.12 L358.68,201.23 L359.71,201.33 L360.74,201.44 L361.77,201.55 L362.80,201.65 L363.83,201.76 L364.86,201.86 L365.89,201.96 L366.92,202.07 L367.95,202.17 L368.97,202.27 L370.00,202.37 L371.03,202.48 L372.06,202.58 L373.09,202.68 L374.13,202.78 L375.16,202.88 L376.19,202.98 L377.22,203.07 L378.25,203.17 L379.28,203.27 L380.31,203.37 L381.34,203.47 L382.37,203.56 L383.40,203.66 L384.43,203.75 L385.47,203.85 L386.50,203.95 L387.53,204.04 L388.56,204.13 L389.59,204.23 L390.63,204.32 L391.66,204.41 L392.69,204.51 L393.72,204.60 L394.76,204.69 L395.79,204.78 L396.82,204.87 L397.85,204.96 L398.89,205.05 L399.92,205.14 L400.95,205.23 L401.99,205.32 L403.02,205.41 L404.05,205.50 L405.09,205.59 L406.12,205.67 L407.16,205.76 L408.19,205.85 L409.22,205.93 L410.26,206.02 L411.29,206.10 L412.33,206.19 L413.36,206.27 L414.39,206.36 L415.43,206.44 L416.46,206.53 L417.50,206.61 L418.53,206.69 L419.57,206.77 L420.60,206.86 L421.64,206.94 L422.67,207.02 L423.71,207.10 L424.74,207.18 L425.78,207.26 L426.81,207.34 L427.85,207.42 L428.88,207.50 L429.92,207.58 L430.95,207.66 L431.99,207.73 L433.02,207.81 L434.06,207.89 L435.09,207.97 L436.13,208.04 L437.17,208.12 L438.20,208.20 L439.24,208.27 L440.27,208.35 L441.31,208.42 L442.34,208.50 L443.38,208.57 L444.42,208.64 L445.45,208.72 L446.49,208.79 L447.52,208.86 L448.56,208.94 L449.60,209.01 L450.63,209.08 L451.67,209.15 L452.70,209.22 L453.74,209.30 L454.78,209.37 L455.81,209.44 L456.85,209.51 L457.89,209.58 L458.92,209.65 L459.96,209.72 L460.99,209.78 L462.03,209.85 L463.07,209.92 L464.10,209.99 L465.14,210.06 L466.18,210.12 L467.21,210.19 L468.25,210.26 L469.29,210.33 L470.32,210.39 L471.36,210.46 L472.39,210.52 L473.43,210.59 L474.47,210.65 L475.50,210.72 L476.54,210.78 L477.58,210.85 L478.61,210.91 L479.65,210.97 L480.69,211.04 L481.72,211.10 L482.76,211.16 L483.79,211.23 L484.83,211.29 L485.87,211.35 L486.90,211.41 L487.94,211.47 L488.98,211.54 L490.01,211.60 L491.05,211.66 L492.08,211.72 L493.12,211.78 L494.16,211.84 L495.19,211.90 L496.23,211.96 L497.26,212.02 L498.30,212.08 L499.34,212.13 L500.37,212.19 L501.41,212.25 L502.44,212.31 L503.48,212.37 L504.52,212.42 L505.55,212.48 L506.59,212.54 L507.62,212.60 L508.66,212.65 L509.69,212.71 L510.73,212.76 L511.76,212.82 L512.80,212.88 L513.83,212.93 L514.87,212.99 L515.90,213.04 L516.94,213.10 L517.97,213.15 L519.01,213.21 L520.04,213.26 L521.08,213.31 L522.11,213.37 L523.15,213.42 L524.18,213.47 L525.22,213.53 L526.25,213.58 L527.29,213.63 L528.32,213.68 L529.36,213.74 L530.39,213.79 L531.42,213.84 L532.46,213.89 L533.49,213.94 L534.53,214.00" fill="none" stroke="#5cdae2" stroke-width="1.6" stroke-dasharray="1.2,3.0,4.2,3.2" clip-path="url(#cl)"/>
<path d="M27.48,218.84 L28.47,218.62 L29.46,218.41 L30.45,218.19 L31.45,217.97 L32.44,217.76 L33.43,217.54 L34.42,217.33 L35.42,217.11 L36.41,216.90 L37.41,216.69 L38.40,216.47 L39.40,216.26 L40.39,216.05 L41.39,215.84 L42.38,215.63 L43.38,215.42 L44.37,215.21 L45.37,215.00 L46.37,214.79 L47.37,214.58 L48.36,214.37 L49.36,214.17 L50.36,213.96 L51.36,213.76 L52.36,213.55 L53.36,213.35 L54.36,213.14 L55.36,212.94 L56.36,212.74 L57.36,212.54 L58.36,212.34 L59.36,212.14 L60.36,211.94 L61.36,211.74 L62.36,211.54 L63.36,211.35 L64.37,211.15 L65.37,210.96 L66.37,210.76 L67.37,210.57 L68.38,210.38 L69.38,210.19 L70.39,210.00 L71.39,209.81 L72.39,209.62 L73.40,209.43 L74.40,209.24 L75.41,209.06 L76.42,208.87 L77.42,208.69 L78.43,208.51 L79.43,208.32 L80.44,208.14 L81.45,207.96 L82.46,207.79 L83.46,207.61 L84.47,207.43 L85.48,207.26 L86.49,207.08 L87.50,206.91 L88.50,206.74 L89.51,206.57 L90.52,206.40 L91.53,206.23 L92.54,206.06 L93.55,205.89 L94.56,205.73 L95.57,205.56 L96.58,205.40 L97.59,205.24 L98.61,205.08 L99.62,204.92 L100.63,204.76 L101.64,204.61 L102.65,204.45 L103.67,204.30 L104.68,204.15 L105.69,203.99 L106.71,203.84 L107.72,203.70 L108.73,203.55 L109.75,203.40 L110.76,203.26 L111.77,203.12 L112.79,202.97 L113.80,202.83 L114.82,202.69 L115.83,202.56 L116.85,202.42 L117.87,202.28 L118.88,202.15 L119.90,202.02 L120.92,201.89 L121.93,201.76 L122.95,201.63 L123.97,201.50 L124.98,201.38 L126.00,201.25 L127.02,201.13 L128.04,201.01 L129.05,200.89 L130.07,200.77 L131.09,200.66 L132.11,200.54 L133.13,200.43 L134.15,200.31 L135.17,200.20 L136.19,200.09 L137.21,199.99 L138.23,199.88 L139.25,199.77 L140.27,199.67 L141.29,199.57 L142.31,199.47 L143.33,199.37 L144.35,199.27 L145.37,199.17 L146.40,199.08 L147.42,198.99 L148.44,198.89 L149.46,198.80 L150.49,198.71 L151.51,198.63 L152.53,198.54 L153.55,198.46 L154.58,198.38 L155.60,198.29 L156.62,198.22 L157.65,198.14 L158.67,198.06 L159.70,197.99 L160.72,197.91 L161.75,197.84 L162.77,197.77 L163.79,197.70 L164.82,197.64 L165.84,197.57 L166.87,197.51 L167.90,197.45 L168.92,197.39 L169.95,197.33 L170.97,197.27 L172.00,197.21 L173.03,197.16 L174.05,197.11 L175.08,197.06 L176.11,197.01 L177.13,196.96 L178.16,196.92 L179.19,196.87 L180.22,196.83 L181.24,196.79 L182.27,196.75 L183.30,196.71 L184.33,196.67 L185.36,196.64 L186.39,196.61 L187.41,196.57 L188.44,196.54 L189.47,196.51 L190.50,196.49 L191.53,196.46 L192.56,196.44 L193.59,196.41 L194.62,196.39 L195.65,196.37 L196.68,196.35 L197.71,196.33 L198.74,196.32 L199.77,196.30 L200.80,196.29 L201.83,196.28 L202.86,196.27 L203.89,196.26 L204.92,196.25 L205.96,196.24 L206.99,196.24 L208.02,196.23 L209.05,196.23 L210.08,196.23 L211.11,196.23 L212.15,196.23 L213.18,196.23 L214.21,196.23 L215.24,196.23 L216.28,196.24 L217.31,196.25 L218.34,196.25 L219.37,196.26 L220.41,196.27 L221.44,196.28 L222.47,196.29 L223.51,196.31 L224.54,196.32 L225.57,196.34 L226.61,196.35 L227.64,196.37 L228.68,196.39 L229.71,196.41 L230.74,196.43 L231.78,196.45 L232.81,196.47 L233.85,196.49 L234.88,196.52 L235.92,196.54 L236.95,196.57 L237.99,196.59 L239.02,196.62 L240.06,196.65 L241.09,196.68 L242.13,196.71 L243.16,196.74 L244.20,196.77 L245.23,196.81 L246.27,196.84 L247.31,196.87 L248.34,196.91 L249.38,196.95 L250.41,196.98 L251.45,197.02 L252.49,197.06 L253.52,197.10 L254.56,197.14 L255.59,197.18 L256.63,197.22 L257.67,197.26 L258.70,197.30 L259.74,197.35 L260.78,197.39 L261.82,197.43 L262.85,197.48 L263.89,197.52 L264.93,197.57 L265.96,197.62 L267.00,197.66 L268.04,197.71 L269.08,197.76 L270.11,197.81 L271.15,197.86 L272.19,197.91 L273.23,197.96 L274.26,198.01 L275.30,198.06 L276.34,198.11 L277.38,198.17 L278.42,198.22 L279.45,198.27 L280.49,198.33 L281.53,198.38 L282.57,198.43 L283.61,198.49 L284.65,198.54 L285.68,198.60 L286.72,198.66 L287.76,198.71 L288.80,198.77 L289.84,198.83 L290.88,198.88 L291.92,198.94 L292.95,199.00 L293.99,199.06 L295.03,199.12 L296.07,199.17 L297.11,199.23 L298.15,199.29 L299.19,199.35 L300.23,199.41 L301.27,199.47 L302.31,199.53 L303.34,199.59 L304.38,199.65 L305.42,199.71 L306.46,199.77 L307.50,199.83 L308.54,199.89 L309.58,199.95 L310.62,200.01 L311.66,200.07 L312.70,200.13 L313.74,200.20 L314.78,200.26 L315.82,200.32 L316.86,200.38 L317.90,200.44 L318.94,200.50 L319.97,200.56 L321.01,200.63 L322.05,200.69 L323.09,200.75 L324.13,200.81 L325.17,200.87 L326.21,200.94 L327.25,201.00 L328.29,201.06 L329.33,201.12 L330.37,201.19 L331.41,201.25 L332.45,201.31 L333.49,201.37 L334.53,201.44 L335.57,201.50 L336.61,201.56 L337.65,201.63 L338.69,201.69 L339.73,201.75 L340.77,201.81 L341.81,201.88 L342.85,201.94 L343.89,202.00 L344.93,202.07 L345.97,202.13 L347.01,202.19 L348.05,202.26 L349.09,202.32 L350.13,202.38 L351.17,202.45 L352.21,202.51 L353.25,202.58 L354.29,202.64 L355.33,202.70 L356.37,202.77 L357.41,202.83 L358.45,202.89 L359.49,202.96 L360.53,203.02 L361.57,203.08 L362.61,203.15 L363.65,203.21 L364.69,203.28 L365.73,203.34 L366.77,203.40 L367.81,203.47 L368.84,203.53 L369.88,203.59 L370.92,203.66 L371.96,203.72 L373.00,203.79 L374.04,203.85 L375.08,203.91 L376.12,203.98 L377.16,204.04 L378.20,204.10 L379.24,204.17 L380.28,204.23 L381.32,204.29 L382.36,204.36 L383.40,204.42 L384.44,204.48 L385.48,204.55 L386.52,204.61 L387.56,204.68 L388.60,204.74 L389.63,204.80 L390.67,204.86 L391.71,204.93 L392.75,204.99 L393.79,205.05 L394.83,205.12 L395.87,205.18 L396.91,205.24 L397.95,205.31 L398.99,205.37 L400.03,205.43 L401.06,205.49 L402.10,205.56 L403.14,205.62 L404.18,205.68 L405.22,205.74 L406.26,205.81 L407.30,205.87 L408.34,205.93 L409.37,205.99 L410.41,206.05 L411.45,206.12 L412.49,206.18 L413.53,206.24 L414.57,206.30 L415.60,206.36 L416.64,206.42 L417.68,206.48 L418.72,206.55 L419.76,206.61 L420.80,206.67 L421.83,206.73 L422.87,206.79 L423.91,206.85 L424.95,206.91 L425.99,206.97 L427.02,207.03 L428.06,207.09 L429.10,207.15 L430.14,207.21 L431.17,207.27 L432.21,207.33 L433.25,207.39 L434.29,207.45 L435.32,207.51 L436.36,207.57 L437.40,207.63 L438.43,207.69 L439.47,207.74 L440.51,207.80 L441.54,207.86 L442.58,207.92 L443.62,207.98 L444.65,208.03 L445.69,208.09 L446.73,208.15 L447.76,208.21 L448.80,208.26 L449.84,208.32 L450.87,208.38 L451.91,208.44 L452.95,208.49 L453.98,208.55 L455.02,208.61 L456.05,208.66 L457.09,208.72 L458.12,208.77 L459.16,208.83 L460.20,208.88 L461.23,208.94 L462.27,208.99 L463.30,209.05 L464.34,209.10 L465.37,209.16 L466.41,209.21 L467.44,209.27 L468.48,209.32 L469.51,209.37 L470.55,209.43 L471.58,209.48 L472.62,209.53 L473.65,209.59 L474.68,209.64 L475.72,209.69 L476.75,209.74 L477.79,209.79 L478.82,209.85 L479.85,209.90 L480.89,209.95 L481.92,210.00 L482.95,210.05 L483.99,210.10 L485.02,210.15 L486.06,210.20 L487.09,210.25 L488.12,210.30 L489.15,210.35 L490.19,210.40 L491.22,210.45 L492.25,210.50 L493.29,210.54 L494.32,210.59 L495.35,210.64 L496.38,210.69 L497.41,210.74 L498.45,210.78 L499.48,210.83 L500.51,210.88 L501.54,210.92 L502.57,210.97 L503.60,211.01 L504.64,211.06 L505.67,211.10 L506.70,211.15 L507.73,211.19 L508.76,211.24 L509.79,211.28 L510.82,211.33 L511.85,211.37 L512.88,211.41 L513.91,211.46 L514.94,211.50 L515.97,211.54 L517.00,211.58 L518.03,211.62 L519.06,211.67 L520.09,211.71 L521.12,211.75 L522.15,211.79 L523.18,211.83 L524.21,211.87 L525.24,211.91 L526.27,211.95 L527.30,211.98 L528.32,212.02 L529.35,212.06 L530.38,212.10 L531.41,212.14 L532.44,212.17 L533.47,212.21 L534.49,212.25" fill="none" stroke="#c84ac6" stroke-width="1.6" stroke-dasharray="6.4,3.6" clip-path="url(#cl)"/>
<path d="M598.75,7.40 L598.92,8.06 L599.09,8.72 L599.26,9.38 L599.43,10.04 L599.60,10.70 L599.77,11.36 L599.94,12.02 L600.11,12.68 L600.27,13.34 L600.44,13.99 L600.61,14.65 L600.77,15.31 L600.94,15.97 L601.10,16.63 L601.27,17.29 L601.43,17.95 L601.60,18.61 L601.76,19.27 L601.93,19.93 L602.09,20.59 L602.26,21.25 L602.42,21.91 L602.58,22.56 L602.75,23.22 L602.91,23.88 L603.07,24.54 L603.24,25.20 L603.40,25.86 L603.57,26.52 L603.73,27.17 L603.89,27.83 L604.06,28.49 L604.22,29.15 L604.39,29.81 L604.55,30.46 L604.72,31.12 L604.88,31.78 L605.05,32.44 L605.21,33.10 L605.38,33.75 L605.54,34.41 L605.71,35.07 L605.88,35.73 L606.05,36.38 L606.21,37.04 L606.38,37.70 L606.55,38.35 L606.72,39.01 L606.89,39.67 L607.06,40.32 L607.23,40.98 L607.41,41.64 L607.58,42.29 L607.75,42.95 L607.93,43.60 L608.10,44.26 L608.28,44.92 L608.45,45.57 L608.63,46.23 L608.81,46.88 L608.99,47.54 L609.17,48.19 L609.35,48.85 L609.53,49.50 L609.71,50.16 L609.89,50.81 L610.08,51.47 L610.26,52.12 L610.45,52.77 L610.64,53.43 L610.83,54.08 L611.02,54.74 L611.21,55.39 L611.40,56.04 L611.59,56.70 L611.79,57.35 L611.98,58.00 L612.18,58.66 L612.38,59.31 L612.58,59.96 L612.78,60.62 L612.98,61.27 L613.18,61.92 L613.39,62.57 L613.60,63.22 L613.80,63.88 L614.01,64.53 L614.22,65.18 L614.44,65.83 L614.65,66.48 L614.87,67.13 L615.08,67.79 L615.30,68.44 L615.52,69.09 L615.75,69.74 L615.97,70.39 L616.20,71.04 L616.42,71.69 L616.65,72.34 L616.88,72.99 L617.11,73.64 L617.35,74.29 L617.58,74.94 L617.82,75.58 L618.06,76.23 L618.29,76.88 L618.53,77.53 L618.77,78.18 L619.02,78.83 L619.26,79.48 L619.51,80.12 L619.75,80.77 L620.00,81.42 L620.25,82.07 L620.49,82.71 L620.74,83.36 L621.00,84.01 L621.25,84.65 L621.50,85.30 L621.75,85.95 L622.01,86.59 L622.26,87.24 L622.52,87.88 L622.77,88.53 L623.03,89.17 L623.29,89.82 L623.55,90.46 L623.80,91.11 L624.06,91.75 L624.32,92.40 L624.58,93.04 L624.84,93.68 L625.10,94.33 L625.36,94.97 L625.62,95.61 L625.89,96.26 L626.15,96.90 L626.41,97.54 L626.67,98.18 L626.93,98.83 L627.20,99.47 L627.46,100.11 L627.73,100.75 L627.99,101.39 L628.26,102.03 L628.52,102.67 L628.79,103.31 L629.06,103.95 L629.33,104.59 L629.60,105.23 L629.87,105.87 L630.14,106.51 L630.42,107.15 L630.69,107.79 L630.97,108.43 L631.25,109.07 L631.53,109.71 L631.81,110.34 L632.09,110.98 L632.38,111.62 L632.66,112.26 L632.95,112.89 L633.24,113.53 L633.53,114.17 L633.83,114.80 L634.12,115.44 L634.42,116.08 L634.72,116.71 L635.03,117.35 L635.33,117.98 L635.64,118.62 L635.95,119.25 L636.26,119.88 L636.58,120.52 L636.90,121.15 L637.22,121.79 L637.54,122.42 L637.87,123.05 L638.20,123.68 L638.53,124.32 L638.87,124.95 L639.21,125.58 L639.55,126.21 L639.89,126.84 L640.24,127.47 L640.59,128.10 L640.94,128.73 L641.30,129.36 L641.66,129.99 L642.02,130.62 L642.38,131.25 L642.75,131.87 L643.12,132.50 L643.50,133.13 L643.87,133.75 L644.25,134.38 L644.64,135.00 L645.02,135.62 L645.41,136.25 L645.80,136.87 L646.20,137.49 L646.60,138.11 L647.00,138.73 L647.40,139.35 L647.81,139.97 L648.22,140.58 L648.63,141.20 L649.05,141.82 L649.47,142.43 L649.89,143.05 L650.32,143.66 L650.75,144.27 L651.18,144.88 L651.61,145.49 L652.04,146.10 L652.48,146.71 L652.92,147.32 L653.36,147.93 L653.80,148.53 L654.24,149.14 L654.68,149.74 L655.13,150.34 L655.57,150.94 L656.02,151.54 L656.47,152.14 L656.92,152.74 L657.37,153.34 L657.82,153.93 L658.28,154.52 L658.73,155.12 L659.19,155.71 L659.66,156.30 L660.12,156.89 L660.59,157.48 L661.06,158.06 L661.53,158.65 L662.01,159.23 L662.49,159.81 L662.98,160.39 L663.46,160.97 L663.96,161.55 L664.45,162.13 L664.95,162.70 L665.46,163.27 L665.97,163.85 L666.48,164.42 L667.00,164.98 L667.52,165.55 L668.05,166.12 L668.59,166.68 L669.12,167.24 L669.67,167.80 L670.22,168.36 L670.77,168.92 L671.34,169.48 L671.90,170.03 L672.48,170.58 L673.05,171.13 L673.64,171.68 L674.23,172.23 L674.82,172.77 L675.42,173.31 L676.02,173.86 L676.63,174.39 L677.24,174.93 L677.86,175.47 L678.47,176.00 L679.10,176.53 L679.72,177.06 L680.35,177.59 L680.98,178.11 L681.62,178.64 L682.26,179.16 L682.90,179.68 L683.54,180.20 L684.19,180.71 L684.83,181.22 L685.49,181.74 L686.14,182.24 L686.80,182.75 L687.46,183.25 L688.13,183.76 L688.80,184.26 L689.47,184.75 L690.14,185.25 L690.82,185.74 L691.51,186.23 L692.20,186.72 L692.89,187.21 L693.58,187.69 L694.28,188.17 L694.99,188.65 L695.70,189.13 L696.41,189.60 L697.13,190.07 L697.86,190.54 L698.58,191.01 L699.32,191.47 L700.05,191.93 L700.79,192.39 L701.54,192.85 L702.29,193.30 L703.04,193.75 L703.80,194.20 L704.56,194.65 L705.33,195.09 L706.10,195.53 L706.87,195.97 L707.65,196.40 L708.43,196.83 L709.21,197.26 L710.00,197.69 L710.80,198.11 L711.59,198.53 L712.39,198.95 L713.20,199.36 L714.00,199.77 L714.82,200.18 L715.63,200.58 L716.45,200.98 L717.27,201.38 L718.09,201.78 L718.92,202.17 L719.75,202.56 L720.59,202.94 L721.43,203.32 L722.27,203.70 L723.11,204.08 L723.96,204.45 L724.81,204.82 L725.66,205.18 L726.52,205.55 L727.38,205.90 L728.24,206.26 L729.10,206.61 L729.97,206.96 L730.84,207.30 L731.71,207.64 L732.59,207.98 L733.47,208.32 L734.35,208.65 L735.23,208.97 L736.12,209.29 L737.00,209.61 L737.89,209.93 L738.79,210.24 L739.68,210.55 L740.58,210.85 L741.48,211.15 L742.38,211.45 L743.28,211.74 L744.19,212.03 L745.10,212.31 L746.01,212.60 L746.92,212.87 L747.83,213.15 L748.75,213.42 L749.66,213.69 L750.58,213.95 L751.50,214.21 L752.43,214.47 L753.35,214.73 L754.28,214.98 L755.21,215.23 L756.13,215.47 L757.07,215.71 L758.00,215.95 L758.93,216.19 L759.87,216.42 L760.80,216.65 L761.74,216.88 L762.68,217.10 L763.62,217.32 L764.56,217.54 L765.50,217.75 L766.45,217.96 L767.39,218.17 L768.34,218.38 L769.28,218.58 L770.23,218.78 L771.18,218.98 L772.13,219.18 L773.08,219.37 L774.04,219.56 L774.99,219.75 L775.95,219.93 L776.91,220.11 L777.86,220.29 L778.82,220.47 L779.78,220.65 L780.75,220.82 L781.71,220.99 L782.68,221.16 L783.64,221.32 L784.61,221.49 L785.58,221.65 L786.56,221.81 L787.53,221.96 L788.50,222.12 L789.48,222.27 L790.46,222.42 L791.44,222.57 L792.42,222.72 L793.40,222.86 L794.39,223.00 L795.37,223.14 L796.36,223.28 L797.35,223.42 L798.34,223.55 L799.33,223.69 L800.32,223.82 L801.32,223.95 L802.31,224.07 L803.31,224.20 L804.31,224.32 L805.31,224.44 L806.31,224.56 L807.31,224.68 L808.32,224.80 L809.32,224.92 L810.33,225.03 L811.33,225.14 L812.34,225.25 L813.35,225.36 L814.36,225.47 L815.37,225.57 L816.39,225.68 L817.40,225.78 L818.42,225.88 L819.43,225.98 L820.45,226.08 L821.47,226.18 L822.49,226.27 L823.50,226.36 L824.53,226.46 L825.55,226.55 L826.57,226.64 L827.59,226.73 L828.62,226.82 L829.64,226.90 L830.67,226.99 L831.69,227.07 L832.72,227.15 L833.75,227.24 L834.78,227.32 L835.80,227.39 L836.83,227.47 L837.86,227.55 L838.90,227.63 L839.93,227.70 L840.96,227.78 L841.99,227.85 L843.03,227.92 L844.06,227.99 L845.09,228.06 L846.13,228.13 L847.16,228.20 L848.20,228.27 L849.23,228.34 L850.27,228.40 L851.31,228.47 L852.34,228.53 L853.38,228.60 L854.42,228.66 L855.46,228.72 L856.50,228.78 L857.53,228.84 L858.57,228.90 L859.61,228.96 L860.65,229.02 L861.69,229.08 L862.73,229.14 L863.77,229.20 L864.81,229.25 L865.85,229.31 L866.89,229.37 L867.93,229.42 L868.96,229.48 L870.00,229.53 L871.04,229.59 L872.08,229.64 L873.12,229.69 L874.16,229.75 L875.20,229.80 L876.24,229.85 L877.28,229.90 L878.32,229.96 L879.36,230.01 L880.40,230.06 L881.44,230.11 L882.48,230.16 L883.52,230.21 L884.56,230.26 L885.60,230.30 L886.64,230.35 L887.68,230.40 L888.72,230.45 L889.76,230.49 L890.80,230.54 L891.84,230.59 L892.88,230.63 L893.92,230.68 L894.96,230.72 L896.00,230.77 L897.04,230.81 L898.08,230.86 L899.11,230.90 L900.15,230.94 L901.19,230.99 L902.23,231.03 L903.27,231.07 L904.31,231.11 L905.35,231.15 L906.39,231.19 L907.43,231.23 L908.47,231.27 L909.51,231.31 L910.55,231.35 L911.59,231.39 L912.63,231.43 L913.67,231.47 L914.71,231.51 L915.75,231.54 L916.79,231.58 L917.83,231.62 L918.87,231.65 L919.91,231.69 L920.95,231.72 L921.99,231.76 L923.03,231.79 L924.07,231.83 L925.11,231.86 L926.15,231.90 L927.19,231.93 L928.23,231.96 L929.27,232.00 L930.31,232.03 L931.35,232.06 L932.39,232.09 L933.43,232.12 L934.47,232.16 L935.51,232.19 L936.55,232.22 L937.59,232.25 L938.63,232.28 L939.67,232.31 L940.71,232.34 L941.75,232.36 L942.79,232.39 L943.83,232.42 L944.87,232.45 L945.91,232.48 L946.95,232.50 L947.99,232.53 L949.04,232.56 L950.08,232.58 L951.12,232.61 L952.16,232.63 L953.20,232.66 L954.24,232.68 L955.28,232.71 L956.32,232.73 L957.36,232.76 L958.40,232.78 L959.44,232.80 L960.48,232.83 L961.52,232.85 L962.56,232.87 L963.60,232.90 L964.64,232.92 L965.68,232.94 L966.72,232.96 L967.76,232.98 L968.80,233.00 L969.84,233.02 L970.88,233.04 L971.92,233.06 L972.96,233.08 L974.00,233.10 L975.05,233.12 L976.09,233.14 L977.13,233.16 L978.17,233.18 L979.21,233.19 L980.25,233.21 L981.29,233.23 L982.33,233.25 L983.37,233.26 L984.41,233.28 L985.45,233.29 L986.49,233.31 L987.53,233.33 L988.57,233.34 L989.61,233.36 L990.65,233.37 L991.70,233.39 L992.74,233.40 L993.78,233.42 L994.82,233.43 L995.86,233.44 L996.90,233.46 L997.94,233.47 L998.98,233.48 L1000.02,233.49 L1001.06,233.51 L1002.10,233.52 L1003.14,233.53 L1004.19,233.54 L1005.23,233.55 L1006.27,233.56 L1007.31,233.58 L1008.35,233.59 L1009.39,233.60 L1010.43,233.61 L1011.47,233.62 L1012.51,233.63 L1013.55,233.64 L1014.60,233.65 L1015.64,233.65 L1016.68,233.66 L1017.72,233.67 L1018.76,233.68 L1019.80,233.69 L1020.84,233.70 L1021.88,233.70 L1022.92,233.71 L1023.97,233.72 L1025.01,233.73 L1026.05,233.73 L1027.09,233.74 L1028.13,233.75 L1029.17,233.75 L1030.21,233.76 L1031.25,233.76 L1032.30,233.77 L1033.34,233.77 L1034.38,233.78 L1035.42,233.78 L1036.46,233.79 L1037.50,233.79 L1038.54,233.80 L1039.59,233.80 L1040.63,233.81 L1041.67,233.81 L1042.71,233.81 L1043.75,233.82 L1044.79,233.82 L1045.83,233.82 L1046.88,233.83 L1047.92,233.83 L1048.96,233.83 L1050.00,233.83 L1051.04,233.84 L1052.08,233.84 L1053.12,233.84 L1054.17,233.84 L1055.21,233.84 L1056.25,233.84 L1057.29,233.84 L1058.33,233.84 L1059.37,233.85 L1060.42,233.85 L1061.46,233.85 L1062.50,233.85 L1063.54,233.85 L1064.58,233.85 L1065.63,233.85" fill="none" stroke="#e06e88" stroke-width="1.5" clip-path="url(#cr)"/>
<path d="M564.86,83.50 L565.23,84.11 L565.61,84.71 L565.98,85.32 L566.36,85.93 L566.74,86.53 L567.13,87.14 L567.51,87.75 L567.90,88.36 L568.30,88.96 L568.69,89.57 L569.09,90.18 L569.49,90.78 L569.90,91.39 L570.31,92.00 L570.72,92.60 L571.13,93.21 L571.55,93.81 L571.97,94.42 L572.39,95.02 L572.81,95.63 L573.24,96.23 L573.68,96.84 L574.11,97.44 L574.55,98.04 L574.99,98.64 L575.43,99.25 L575.88,99.85 L576.33,100.45 L576.78,101.05 L577.23,101.65 L577.69,102.25 L578.15,102.85 L578.62,103.45 L579.08,104.05 L579.56,104.64 L580.03,105.24 L580.50,105.83 L580.98,106.43 L581.47,107.02 L581.95,107.62 L582.44,108.21 L582.93,108.80 L583.42,109.40 L583.92,109.99 L584.42,110.58 L584.92,111.17 L585.43,111.75 L585.94,112.34 L586.45,112.93 L586.96,113.51 L587.48,114.10 L588.00,114.68 L588.52,115.27 L589.05,115.85 L589.58,116.43 L590.11,117.01 L590.65,117.59 L591.19,118.16 L591.73,118.74 L592.27,119.32 L592.82,119.89 L593.37,120.46 L593.92,121.04 L594.48,121.61 L595.04,122.18 L595.60,122.74 L596.17,123.31 L596.73,123.88 L597.30,124.44 L597.88,125.01 L598.46,125.57 L599.04,126.13 L599.62,126.69 L600.20,127.25 L600.79,127.80 L601.39,128.36 L601.98,128.91 L602.58,129.46 L603.18,130.01 L603.78,130.56 L604.39,131.11 L605.00,131.66 L605.61,132.20 L606.23,132.74 L606.85,133.29 L607.47,133.83 L608.09,134.36 L608.72,134.90 L609.35,135.44 L609.98,135.97 L610.62,136.50 L611.26,137.03 L611.90,137.56 L612.55,138.08 L613.20,138.61 L613.85,139.13 L614.50,139.65 L615.16,140.17 L615.82,140.69 L616.48,141.20 L617.15,141.72 L617.82,142.23 L618.49,142.74 L619.17,143.24 L619.85,143.75 L620.53,144.25 L621.21,144.75 L621.90,145.25 L622.59,145.75 L623.28,146.25 L623.98,146.74 L624.68,147.23 L625.38,147.72 L626.09,148.21 L626.79,148.69 L627.50,149.17 L628.22,149.65 L628.94,150.13 L629.66,150.61 L630.38,151.08 L631.11,151.55 L631.83,152.02 L632.57,152.48 L633.30,152.95 L634.04,153.41 L634.78,153.87 L635.52,154.33 L636.27,154.78 L637.02,155.23 L637.77,155.68 L638.53,156.13 L639.29,156.58 L640.05,157.02 L640.81,157.46 L641.58,157.90 L642.35,158.33 L643.12,158.77 L643.90,159.20 L644.68,159.63 L645.46,160.05 L646.24,160.48 L647.03,160.90 L647.82,161.32 L648.61,161.74 L649.40,162.16 L650.20,162.57 L651.00,162.98 L651.80,163.39 L652.60,163.80 L653.41,164.20 L654.22,164.60 L655.03,165.01 L655.84,165.40 L656.66,165.80 L657.48,166.19 L658.30,166.59 L659.13,166.98 L659.95,167.36 L660.78,167.75 L661.61,168.13 L662.45,168.52 L663.28,168.90 L664.12,169.27 L664.96,169.65 L665.80,170.02 L666.65,170.39 L667.49,170.76 L668.34,171.13 L669.19,171.50 L670.05,171.86 L670.90,172.22 L671.76,172.58 L672.62,172.94 L673.48,173.29 L674.35,173.65 L675.21,174.00 L676.08,174.35 L676.95,174.70 L677.82,175.04 L678.70,175.39 L679.57,175.73 L680.45,176.07 L681.33,176.41 L682.21,176.75 L683.10,177.08 L683.98,177.41 L684.87,177.74 L685.76,178.07 L686.65,178.40 L687.54,178.73 L688.44,179.05 L689.33,179.37 L690.23,179.69 L691.13,180.01 L692.03,180.33 L692.94,180.64 L693.84,180.95 L694.75,181.27 L695.66,181.57 L696.57,181.88 L697.48,182.19 L698.39,182.49 L699.31,182.80 L700.22,183.10 L701.14,183.40 L702.06,183.69 L702.98,183.99 L703.90,184.28 L704.82,184.58 L705.75,184.87 L706.68,185.16 L707.60,185.44 L708.53,185.73 L709.46,186.01 L710.40,186.30 L711.33,186.58 L712.26,186.86 L713.20,187.14 L714.14,187.41 L715.08,187.69 L716.02,187.96 L716.96,188.23 L717.90,188.50 L718.85,188.77 L719.79,189.04 L720.74,189.30 L721.69,189.56 L722.64,189.83 L723.59,190.09 L724.54,190.35 L725.49,190.60 L726.45,190.86 L727.40,191.11 L728.36,191.37 L729.32,191.62 L730.28,191.87 L731.24,192.12 L732.20,192.36 L733.16,192.61 L734.13,192.85 L735.09,193.09 L736.06,193.33 L737.02,193.57 L737.99,193.81 L738.96,194.05 L739.93,194.28 L740.90,194.52 L741.88,194.75 L742.85,194.98 L743.83,195.21 L744.80,195.43 L745.78,195.66 L746.76,195.89 L747.74,196.11 L748.72,196.33 L749.70,196.55 L750.68,196.77 L751.66,196.99 L752.65,197.21 L753.63,197.42 L754.62,197.63 L755.61,197.85 L756.59,198.06 L757.58,198.27 L758.57,198.47 L759.56,198.68 L760.55,198.89 L761.55,199.09 L762.54,199.29 L763.53,199.49 L764.53,199.70 L765.52,199.89 L766.52,200.09 L767.52,200.29 L768.52,200.48 L769.52,200.68 L770.52,200.87 L771.52,201.06 L772.52,201.25 L773.52,201.44 L774.52,201.62 L775.53,201.81 L776.53,201.99 L777.54,202.18 L778.54,202.36 L779.55,202.54 L780.55,202.72 L781.56,202.90 L782.57,203.08 L783.58,203.25 L784.59,203.43 L785.60,203.60 L786.61,203.77 L787.62,203.94 L788.64,204.11 L789.65,204.28 L790.66,204.45 L791.68,204.62 L792.69,204.78 L793.71,204.95 L794.72,205.11 L795.74,205.27 L796.75,205.43 L797.77,205.59 L798.79,205.75 L799.81,205.91 L800.83,206.06 L801.85,206.22 L802.87,206.37 L803.89,206.52 L804.91,206.67 L805.93,206.83 L806.95,206.97 L807.97,207.12 L808.99,207.27 L810.02,207.42 L811.04,207.56 L812.06,207.70 L813.09,207.85 L814.11,207.99 L815.14,208.13 L816.16,208.27 L817.19,208.41 L818.21,208.55 L819.24,208.68 L820.27,208.82 L821.29,208.95 L822.32,209.09 L823.35,209.22 L824.37,209.35 L825.40,209.48 L826.43,209.61 L827.46,209.74 L828.49,209.87 L829.52,209.99 L830.54,210.12 L831.57,210.24 L832.60,210.37 L833.63,210.49 L834.66,210.61 L835.69,210.73 L836.72,210.85 L837.75,210.97 L838.78,211.09 L839.81,211.21 L840.84,211.32 L841.87,211.44 L842.90,211.55 L843.93,211.67 L844.96,211.78 L846.00,211.89 L847.03,212.00 L848.06,212.11 L849.09,212.22 L850.12,212.33 L851.15,212.43 L852.18,212.54 L853.21,212.65 L854.24,212.75 L855.27,212.86 L856.30,212.96 L857.33,213.06 L858.37,213.16 L859.40,213.26 L860.43,213.36 L861.46,213.46 L862.49,213.56 L863.52,213.66 L864.55,213.75 L865.58,213.85 L866.61,213.94 L867.65,214.04 L868.68,214.13 L869.71,214.22 L870.74,214.32 L871.77,214.41 L872.80,214.50 L873.83,214.59 L874.86,214.68 L875.90,214.76 L876.93,214.85 L877.96,214.94 L878.99,215.03 L880.02,215.11 L881.05,215.20 L882.08,215.28 L883.12,215.36 L884.15,215.44 L885.18,215.53 L886.21,215.61 L887.24,215.69 L888.27,215.77 L889.31,215.85 L890.34,215.93 L891.37,216.00 L892.40,216.08 L893.43,216.16 L894.47,216.23 L895.50,216.31 L896.53,216.38 L897.56,216.46 L898.59,216.53 L899.63,216.60 L900.66,216.68 L901.69,216.75 L902.72,216.82 L903.75,216.89 L904.79,216.96 L905.82,217.03 L906.85,217.10 L907.88,217.16 L908.92,217.23 L909.95,217.30 L910.98,217.37 L912.01,217.43 L913.05,217.50 L914.08,217.56 L915.11,217.63 L916.15,217.69 L917.18,217.75 L918.21,217.82 L919.24,217.88 L920.28,217.94 L921.31,218.00 L922.34,218.06 L923.38,218.12 L924.41,218.18 L925.44,218.24 L926.48,218.30 L927.51,218.36 L928.54,218.42 L929.58,218.48 L930.61,218.53 L931.64,218.59 L932.68,218.65 L933.71,218.70 L934.74,218.76 L935.78,218.81 L936.81,218.87 L937.85,218.92 L938.88,218.97 L939.91,219.03 L940.95,219.08 L941.98,219.13 L943.02,219.19 L944.05,219.24 L945.09,219.29 L946.12,219.34 L947.15,219.39 L948.19,219.44 L949.22,219.49 L950.26,219.54 L951.29,219.59 L952.33,219.64 L953.36,219.69 L954.40,219.74 L955.43,219.78 L956.47,219.83 L957.50,219.88 L958.54,219.93 L959.57,219.97 L960.61,220.02 L961.64,220.07 L962.68,220.11 L963.71,220.16 L964.75,220.20 L965.79,220.25 L966.82,220.29 L967.86,220.34 L968.89,220.38 L969.93,220.43 L970.97,220.47 L972.00,220.51 L973.04,220.56 L974.07,220.60 L975.11,220.64 L976.15,220.69 L977.18,220.73 L978.22,220.77 L979.26,220.82 L980.29,220.86 L981.33,220.90 L982.37,220.94 L983.40,220.98 L984.44,221.02 L985.48,221.07 L986.52,221.11 L987.55,221.15 L988.59,221.19 L989.63,221.23 L990.67,221.27 L991.70,221.31 L992.74,221.35 L993.78,221.39 L994.82,221.43 L995.86,221.47 L996.89,221.51 L997.93,221.55 L998.97,221.59 L1000.01,221.63 L1001.05,221.67 L1002.09,221.71 L1003.12,221.75 L1004.16,221.79 L1005.20,221.83 L1006.24,221.87 L1007.28,221.91 L1008.32,221.95 L1009.36,221.98 L1010.40,222.02 L1011.44,222.06 L1012.48,222.10 L1013.52,222.14 L1014.56,222.18 L1015.60,222.22 L1016.64,222.26 L1017.68,222.30 L1018.72,222.34 L1019.76,222.38 L1020.80,222.42 L1021.84,222.45 L1022.88,222.49 L1023.92,222.53 L1024.96,222.57 L1026.00,222.61 L1027.04,222.65 L1028.08,222.69 L1029.12,222.73 L1030.16,222.77 L1031.20,222.81 L1032.25,222.85 L1033.29,222.89 L1034.33,222.93 L1035.37,222.97 L1036.41,223.01 L1037.45,223.05 L1038.50,223.09 L1039.54,223.13 L1040.58,223.17 L1041.62,223.21 L1042.67,223.25 L1043.71,223.30 L1044.75,223.34 L1045.79,223.38 L1046.84,223.42 L1047.88,223.46 L1048.92,223.50 L1049.97,223.55 L1051.01,223.59 L1052.05,223.63 L1053.10,223.67 L1054.14,223.72 L1055.18,223.76 L1056.23,223.80 L1057.27,223.85 L1058.32,223.89 L1059.36,223.93 L1060.41,223.98 L1061.45,224.02 L1062.50,224.07 L1063.54,224.11 L1064.58,224.16 L1065.63,224.20" fill="none" stroke="#80d676" stroke-width="1.5" stroke-dasharray="4.4,3.9" clip-path="url(#cr)"/>
<path d="M588.14,18.48 L588.21,19.16 L588.28,19.84 L588.36,20.51 L588.43,21.19 L588.50,21.87 L588.58,22.54 L588.65,23.22 L588.73,23.89 L588.80,24.57 L588.87,25.24 L588.95,25.92 L589.02,26.59 L589.10,27.26 L589.17,27.93 L589.25,28.60 L589.32,29.27 L589.39,29.94 L589.47,30.61 L589.55,31.28 L589.62,31.95 L589.70,32.62 L589.77,33.29 L589.85,33.96 L589.92,34.62 L590.00,35.29 L590.08,35.96 L590.16,36.62 L590.23,37.29 L590.31,37.95 L590.39,38.62 L590.47,39.28 L590.54,39.94 L590.62,40.61 L590.70,41.27 L590.78,41.93 L590.86,42.60 L590.94,43.26 L591.02,43.92 L591.10,44.58 L591.18,45.24 L591.26,45.90 L591.34,46.56 L591.43,47.22 L591.51,47.88 L591.59,48.54 L591.67,49.20 L591.76,49.86 L591.84,50.52 L591.92,51.18 L592.01,51.84 L592.09,52.49 L592.18,53.15 L592.27,53.81 L592.35,54.47 L592.44,55.12 L592.53,55.78 L592.61,56.44 L592.70,57.09 L592.79,57.75 L592.88,58.41 L592.97,59.06 L593.06,59.72 L593.15,60.37 L593.24,61.03 L593.33,61.69 L593.43,62.34 L593.52,63.00 L593.61,63.65 L593.71,64.31 L593.80,64.96 L593.90,65.62 L593.99,66.27 L594.09,66.93 L594.19,67.58 L594.29,68.24 L594.38,68.89 L594.48,69.55 L594.58,70.20 L594.68,70.85 L594.78,71.51 L594.89,72.16 L594.99,72.82 L595.09,73.47 L595.20,74.13 L595.30,74.78 L595.41,75.44 L595.51,76.09 L595.62,76.75 L595.73,77.40 L595.83,78.06 L595.94,78.71 L596.05,79.37 L596.16,80.02 L596.27,80.68 L596.39,81.33 L596.50,81.99 L596.61,82.64 L596.73,83.30 L596.84,83.95 L596.96,84.61 L597.07,85.27 L597.19,85.92 L597.31,86.58 L597.43,87.24 L597.55,87.89 L597.67,88.55 L597.79,89.21 L597.92,89.86 L598.04,90.52 L598.16,91.18 L598.29,91.84 L598.42,92.49 L598.54,93.15 L598.67,93.81 L598.80,94.47 L598.93,95.13 L599.06,95.79 L599.20,96.45 L599.33,97.11 L599.46,97.77 L599.60,98.43 L599.73,99.09 L599.87,99.75 L600.01,100.41 L600.15,101.08 L600.29,101.74 L600.43,102.40 L600.57,103.06 L600.72,103.73 L600.86,104.39 L601.01,105.05 L601.15,105.72 L601.30,106.38 L601.45,107.05 L601.60,107.71 L601.75,108.38 L601.90,109.05 L602.06,109.71 L602.21,110.38 L602.37,111.05 L602.52,111.71 L602.68,112.38 L602.84,113.05 L603.01,113.71 L603.17,114.38 L603.33,115.05 L603.50,115.72 L603.67,116.38 L603.83,117.05 L604.01,117.72 L604.18,118.39 L604.35,119.05 L604.53,119.72 L604.70,120.39 L604.88,121.06 L605.06,121.72 L605.24,122.39 L605.43,123.06 L605.61,123.72 L605.80,124.39 L605.99,125.06 L606.18,125.72 L606.37,126.39 L606.56,127.05 L606.76,127.72 L606.96,128.38 L607.16,129.05 L607.36,129.71 L607.56,130.37 L607.77,131.04 L607.98,131.70 L608.19,132.36 L608.40,133.02 L608.61,133.69 L608.83,134.35 L609.05,135.01 L609.27,135.67 L609.49,136.33 L609.72,136.98 L609.94,137.64 L610.17,138.30 L610.41,138.96 L610.64,139.61 L610.88,140.27 L611.12,140.92 L611.36,141.57 L611.60,142.23 L611.85,142.88 L612.10,143.53 L612.35,144.18 L612.60,144.83 L612.86,145.48 L613.12,146.13 L613.38,146.77 L613.64,147.42 L613.91,148.06 L614.18,148.71 L614.45,149.35 L614.73,149.99 L615.01,150.63 L615.29,151.27 L615.58,151.91 L615.87,152.55 L616.16,153.19 L616.46,153.82 L616.76,154.46 L617.07,155.09 L617.38,155.72 L617.69,156.35 L618.01,156.98 L618.33,157.61 L618.65,158.24 L618.98,158.86 L619.32,159.48 L619.65,160.11 L620.00,160.73 L620.34,161.35 L620.70,161.97 L621.05,162.58 L621.42,163.20 L621.78,163.81 L622.15,164.43 L622.53,165.04 L622.91,165.65 L623.30,166.26 L623.69,166.86 L624.09,167.47 L624.49,168.07 L624.90,168.67 L625.32,169.27 L625.74,169.87 L626.16,170.46 L626.60,171.06 L627.03,171.65 L627.48,172.24 L627.93,172.83 L628.38,173.42 L628.85,174.01 L629.31,174.59 L629.79,175.17 L630.27,175.75 L630.76,176.33 L631.25,176.90 L631.75,177.47 L632.25,178.04 L632.76,178.61 L633.28,179.17 L633.81,179.74 L634.34,180.30 L634.87,180.85 L635.42,181.41 L635.97,181.96 L636.52,182.51 L637.08,183.05 L637.65,183.59 L638.23,184.13 L638.81,184.67 L639.40,185.20 L639.99,185.73 L640.59,186.26 L641.20,186.78 L641.81,187.30 L642.43,187.82 L643.06,188.33 L643.70,188.84 L644.34,189.34 L644.98,189.85 L645.64,190.34 L646.30,190.84 L646.97,191.33 L647.64,191.81 L648.32,192.30 L649.01,192.77 L649.70,193.25 L650.40,193.72 L651.11,194.18 L651.83,194.64 L652.55,195.10 L653.28,195.55 L654.02,196.00 L654.76,196.45 L655.51,196.88 L656.27,197.32 L657.03,197.75 L657.80,198.17 L658.58,198.59 L659.36,199.01 L660.15,199.42 L660.94,199.83 L661.75,200.23 L662.55,200.63 L663.37,201.03 L664.19,201.42 L665.01,201.81 L665.84,202.19 L666.68,202.57 L667.52,202.94 L668.37,203.31 L669.22,203.68 L670.08,204.04 L670.94,204.39 L671.81,204.75 L672.69,205.10 L673.56,205.44 L674.45,205.79 L675.33,206.12 L676.23,206.46 L677.12,206.79 L678.02,207.11 L678.93,207.44 L679.84,207.76 L680.75,208.07 L681.67,208.38 L682.59,208.69 L683.51,208.99 L684.44,209.29 L685.38,209.59 L686.31,209.88 L687.25,210.17 L688.19,210.46 L689.14,210.74 L690.09,211.02 L691.04,211.30 L691.99,211.57 L692.95,211.84 L693.91,212.10 L694.88,212.36 L695.84,212.62 L696.81,212.88 L697.78,213.13 L698.75,213.38 L699.73,213.62 L700.71,213.87 L701.69,214.11 L702.67,214.34 L703.65,214.57 L704.64,214.80 L705.63,215.03 L706.62,215.25 L707.61,215.48 L708.60,215.69 L709.60,215.91 L710.60,216.12 L711.60,216.33 L712.60,216.54 L713.60,216.74 L714.60,216.94 L715.61,217.14 L716.62,217.33 L717.62,217.52 L718.63,217.71 L719.64,217.90 L720.66,218.09 L721.67,218.27 L722.68,218.45 L723.70,218.62 L724.71,218.80 L725.73,218.97 L726.75,219.14 L727.77,219.30 L728.79,219.47 L729.81,219.63 L730.83,219.79 L731.85,219.94 L732.87,220.10 L733.89,220.25 L734.92,220.40 L735.94,220.55 L736.96,220.69 L737.99,220.83 L739.01,220.98 L740.04,221.11 L741.06,221.25 L742.08,221.38 L743.11,221.52 L744.13,221.65 L745.16,221.78 L746.18,221.90 L747.21,222.03 L748.23,222.15 L749.26,222.27 L750.29,222.39 L751.31,222.50 L752.34,222.62 L753.36,222.73 L754.39,222.84 L755.42,222.95 L756.44,223.06 L757.47,223.16 L758.49,223.27 L759.52,223.37 L760.55,223.47 L761.58,223.57 L762.60,223.66 L763.63,223.76 L764.66,223.85 L765.69,223.94 L766.71,224.04 L767.74,224.12 L768.77,224.21 L769.80,224.30 L770.83,224.38 L771.85,224.47 L772.88,224.55 L773.91,224.63 L774.94,224.71 L775.97,224.78 L777.00,224.86 L778.03,224.93 L779.06,225.01 L780.08,225.08 L781.11,225.15 L782.14,225.22 L783.17,225.29 L784.20,225.36 L785.23,225.42 L786.26,225.49 L787.29,225.55 L788.32,225.61 L789.35,225.68 L790.38,225.74 L791.42,225.80 L792.45,225.85 L793.48,225.91 L794.51,225.97 L795.54,226.02 L796.57,226.08 L797.60,226.13 L798.63,226.19 L799.66,226.24 L800.70,226.29 L801.73,226.34 L802.76,226.39 L803.79,226.44 L804.82,226.49 L805.86,226.54 L806.89,226.58 L807.92,226.63 L808.95,226.68 L809.98,226.72 L811.02,226.76 L812.05,226.81 L813.08,226.85 L814.12,226.90 L815.15,226.94 L816.18,226.98 L817.22,227.02 L818.25,227.06 L819.28,227.10 L820.32,227.14 L821.35,227.18 L822.38,227.22 L823.42,227.26 L824.45,227.30 L825.48,227.34 L826.52,227.38 L827.55,227.41 L828.59,227.45 L829.62,227.49 L830.66,227.53 L831.69,227.57 L832.73,227.60 L833.76,227.64 L834.80,227.68 L835.83,227.71 L836.87,227.75 L837.90,227.79 L838.94,227.82 L839.97,227.86 L841.01,227.90 L842.04,227.93 L843.08,227.97 L844.11,228.00 L845.15,228.04 L846.18,228.07 L847.22,228.11 L848.26,228.15 L849.29,228.18 L850.33,228.22 L851.36,228.25 L852.40,228.28 L853.44,228.32 L854.47,228.35 L855.51,228.39 L856.55,228.42 L857.58,228.46 L858.62,228.49 L859.66,228.52 L860.69,228.56 L861.73,228.59 L862.77,228.62 L863.80,228.66 L864.84,228.69 L865.88,228.72 L866.92,228.75 L867.95,228.79 L868.99,228.82 L870.03,228.85 L871.07,228.88 L872.10,228.92 L873.14,228.95 L874.18,228.98 L875.22,229.01 L876.25,229.04 L877.29,229.07 L878.33,229.10 L879.37,229.14 L880.41,229.17 L881.44,229.20 L882.48,229.23 L883.52,229.26 L884.56,229.29 L885.60,229.32 L886.64,229.35 L887.68,229.38 L888.71,229.41 L889.75,229.44 L890.79,229.46 L891.83,229.49 L892.87,229.52 L893.91,229.55 L894.95,229.58 L895.99,229.61 L897.03,229.64 L898.06,229.66 L899.10,229.69 L900.14,229.72 L901.18,229.75 L902.22,229.78 L903.26,229.80 L904.30,229.83 L905.34,229.86 L906.38,229.88 L907.42,229.91 L908.46,229.94 L909.50,229.96 L910.54,229.99 L911.58,230.01 L912.62,230.04 L913.66,230.07 L914.70,230.09 L915.74,230.12 L916.78,230.14 L917.82,230.17 L918.86,230.19 L919.90,230.22 L920.94,230.24 L921.98,230.27 L923.02,230.29 L924.06,230.31 L925.10,230.34 L926.14,230.36 L927.18,230.38 L928.22,230.41 L929.26,230.43 L930.30,230.45 L931.34,230.48 L932.38,230.50 L933.42,230.52 L934.46,230.54 L935.50,230.57 L936.54,230.59 L937.58,230.61 L938.62,230.63 L939.67,230.65 L940.71,230.67 L941.75,230.70 L942.79,230.72 L943.83,230.74 L944.87,230.76 L945.91,230.78 L946.95,230.80 L947.99,230.82 L949.03,230.84 L950.07,230.86 L951.11,230.88 L952.16,230.90 L953.20,230.92 L954.24,230.93 L955.28,230.95 L956.32,230.97 L957.36,230.99 L958.40,231.01 L959.44,231.03 L960.48,231.04 L961.53,231.06 L962.57,231.08 L963.61,231.10 L964.65,231.11 L965.69,231.13 L966.73,231.15 L967.77,231.16 L968.81,231.18 L969.86,231.20 L970.90,231.21 L971.94,231.23 L972.98,231.24 L974.02,231.26 L975.06,231.28 L976.10,231.29 L977.15,231.31 L978.19,231.32 L979.23,231.33 L980.27,231.35 L981.31,231.36 L982.35,231.38 L983.39,231.39 L984.44,231.40 L985.48,231.42 L986.52,231.43 L987.56,231.44 L988.60,231.46 L989.64,231.47 L990.68,231.48 L991.73,231.49 L992.77,231.51 L993.81,231.52 L994.85,231.53 L995.89,231.54 L996.93,231.55 L997.97,231.56 L999.02,231.57 L1000.06,231.58 L1001.10,231.59 L1002.14,231.61 L1003.18,231.62 L1004.22,231.63 L1005.26,231.63 L1006.30,231.64 L1007.35,231.65 L1008.39,231.66 L1009.43,231.67 L1010.47,231.68 L1011.51,231.69 L1012.55,231.70 L1013.59,231.70 L1014.63,231.71 L1015.68,231.72 L1016.72,231.73 L1017.76,231.73 L1018.80,231.74 L1019.84,231.75 L1020.88,231.76 L1021.92,231.76 L1022.96,231.77 L1024.01,231.77 L1025.05,231.78 L1026.09,231.79 L1027.13,231.79 L1028.17,231.80 L1029.21,231.80 L1030.25,231.81 L1031.29,231.81 L1032.33,231.81 L1033.37,231.82 L1034.42,231.82 L1035.46,231.83 L1036.50,231.83 L1037.54,231.83 L1038.58,231.84 L1039.62,231.84 L1040.66,231.84 L1041.70,231.84 L1042.74,231.85 L1043.78,231.85 L1044.82,231.85 L1045.86,231.85 L1046.90,231.85 L1047.94,231.85 L1048.98,231.85 L1050.02,231.86 L1051.07,231.86 L1052.11,231.86 L1053.15,231.86 L1054.19,231.86 L1055.23,231.86 L1056.27,231.86 L1057.31,231.85 L1058.35,231.85 L1059.39,231.85 L1060.43,231.85 L1061.47,231.85 L1062.51,231.85 L1063.55,231.85 L1064.59,231.84 L1065.63,231.84" fill="none" stroke="#78b6e6" stroke-width="1.6" stroke-dasharray="1.3,2.95" clip-path="url(#cr)"/>
<path d="M564.81,159.03 L565.79,158.77 L566.77,158.52 L567.76,158.26 L568.75,158.02 L569.73,157.77 L570.73,157.53 L571.72,157.29 L572.71,157.06 L573.70,156.83 L574.70,156.60 L575.70,156.38 L576.69,156.16 L577.69,155.94 L578.70,155.73 L579.70,155.52 L580.70,155.31 L581.71,155.11 L582.71,154.91 L583.72,154.72 L584.73,154.53 L585.74,154.34 L586.75,154.16 L587.76,153.98 L588.77,153.80 L589.78,153.63 L590.80,153.46 L591.81,153.29 L592.83,153.13 L593.85,152.97 L594.87,152.82 L595.89,152.66 L596.91,152.52 L597.93,152.37 L598.95,152.23 L599.97,152.09 L601.00,151.96 L602.02,151.83 L603.04,151.70 L604.07,151.57 L605.10,151.45 L606.12,151.34 L607.15,151.22 L608.18,151.11 L609.21,151.00 L610.24,150.90 L611.27,150.80 L612.30,150.70 L613.33,150.61 L614.36,150.52 L615.39,150.43 L616.43,150.35 L617.46,150.27 L618.49,150.19 L619.53,150.12 L620.56,150.05 L621.59,149.98 L622.63,149.92 L623.66,149.86 L624.70,149.80 L625.74,149.75 L626.77,149.70 L627.81,149.65 L628.84,149.61 L629.88,149.57 L630.92,149.53 L631.95,149.50 L632.99,149.47 L634.03,149.44 L635.06,149.41 L636.10,149.39 L637.14,149.38 L638.17,149.36 L639.21,149.35 L640.25,149.34 L641.28,149.34 L642.32,149.33 L643.36,149.34 L644.39,149.34 L645.43,149.35 L646.46,149.36 L647.50,149.37 L648.53,149.39 L649.57,149.41 L650.60,149.43 L651.64,149.46 L652.67,149.49 L653.71,149.52 L654.74,149.56 L655.77,149.60 L656.80,149.64 L657.84,149.68 L658.87,149.73 L659.90,149.78 L660.93,149.84 L661.96,149.89 L662.99,149.95 L664.02,150.02 L665.04,150.08 L666.07,150.15 L667.10,150.23 L668.12,150.30 L669.15,150.38 L670.17,150.46 L671.20,150.54 L672.22,150.63 L673.24,150.72 L674.27,150.81 L675.29,150.91 L676.31,151.01 L677.33,151.11 L678.34,151.22 L679.36,151.32 L680.38,151.44 L681.39,151.55 L682.41,151.67 L683.42,151.78 L684.43,151.91 L685.44,152.03 L686.45,152.16 L687.46,152.29 L688.47,152.42 L689.48,152.56 L690.48,152.70 L691.49,152.84 L692.49,152.99 L693.50,153.13 L694.50,153.28 L695.50,153.43 L696.50,153.59 L697.50,153.75 L698.50,153.91 L699.50,154.07 L700.49,154.23 L701.49,154.40 L702.49,154.57 L703.48,154.74 L704.47,154.92 L705.47,155.09 L706.46,155.27 L707.45,155.45 L708.44,155.64 L709.43,155.82 L710.42,156.01 L711.40,156.20 L712.39,156.40 L713.38,156.59 L714.36,156.79 L715.35,156.99 L716.33,157.19 L717.31,157.39 L718.30,157.60 L719.28,157.80 L720.26,158.01 L721.24,158.22 L722.22,158.44 L723.20,158.65 L724.17,158.87 L725.15,159.09 L726.13,159.31 L727.10,159.53 L728.08,159.76 L729.05,159.98 L730.03,160.21 L731.00,160.44 L731.97,160.67 L732.94,160.90 L733.92,161.14 L734.89,161.37 L735.86,161.61 L736.83,161.85 L737.79,162.09 L738.76,162.33 L739.73,162.58 L740.70,162.82 L741.66,163.07 L742.63,163.32 L743.59,163.57 L744.56,163.82 L745.52,164.07 L746.49,164.32 L747.45,164.58 L748.41,164.84 L749.38,165.09 L750.34,165.35 L751.30,165.61 L752.26,165.87 L753.22,166.14 L754.18,166.40 L755.14,166.66 L756.10,166.93 L757.06,167.20 L758.01,167.46 L758.97,167.73 L759.93,168.00 L760.88,168.27 L761.84,168.54 L762.80,168.82 L763.75,169.09 L764.71,169.36 L765.66,169.64 L766.62,169.92 L767.57,170.19 L768.52,170.47 L769.48,170.75 L770.43,171.03 L771.38,171.31 L772.33,171.59 L773.29,171.87 L774.24,172.15 L775.19,172.43 L776.14,172.71 L777.09,173.00 L778.04,173.28 L778.99,173.57 L779.94,173.85 L780.89,174.14 L781.84,174.42 L782.79,174.71 L783.74,174.99 L784.69,175.28 L785.64,175.57 L786.58,175.86 L787.53,176.14 L788.48,176.43 L789.43,176.72 L790.37,177.01 L791.32,177.30 L792.27,177.59 L793.22,177.87 L794.16,178.16 L795.11,178.45 L796.06,178.74 L797.00,179.03 L797.95,179.32 L798.90,179.61 L799.84,179.90 L800.79,180.19 L801.73,180.48 L802.68,180.77 L803.63,181.05 L804.57,181.34 L805.52,181.63 L806.46,181.92 L807.41,182.21 L808.35,182.49 L809.30,182.78 L810.24,183.07 L811.19,183.36 L812.14,183.64 L813.08,183.93 L814.03,184.21 L814.97,184.50 L815.92,184.78 L816.86,185.07 L817.81,185.35 L818.75,185.64 L819.70,185.92 L820.65,186.20 L821.59,186.48 L822.54,186.76 L823.48,187.04 L824.43,187.32 L825.38,187.60 L826.32,187.88 L827.27,188.16 L828.22,188.43 L829.16,188.71 L830.11,188.98 L831.06,189.26 L832.00,189.53 L832.95,189.81 L833.90,190.08 L834.85,190.35 L835.79,190.62 L836.74,190.89 L837.69,191.16 L838.64,191.43 L839.59,191.69 L840.54,191.96 L841.48,192.23 L842.43,192.49 L843.38,192.75 L844.33,193.02 L845.28,193.28 L846.23,193.54 L847.18,193.80 L848.13,194.06 L849.08,194.32 L850.04,194.58 L850.99,194.84 L851.94,195.10 L852.89,195.35 L853.84,195.61 L854.80,195.86 L855.75,196.12 L856.70,196.37 L857.66,196.62 L858.61,196.87 L859.56,197.12 L860.52,197.37 L861.47,197.62 L862.43,197.87 L863.38,198.11 L864.34,198.36 L865.30,198.61 L866.25,198.85 L867.21,199.09 L868.17,199.34 L869.12,199.58 L870.08,199.82 L871.04,200.06 L872.00,200.30 L872.96,200.54 L873.92,200.78 L874.88,201.01 L875.84,201.25 L876.80,201.49 L877.76,201.72 L878.72,201.95 L879.69,202.19 L880.65,202.42 L881.61,202.65 L882.58,202.88 L883.54,203.11 L884.51,203.34 L885.47,203.56 L886.44,203.79 L887.40,204.02 L888.37,204.24 L889.34,204.46 L890.30,204.69 L891.27,204.91 L892.24,205.13 L893.21,205.35 L894.18,205.57 L895.15,205.79 L896.12,206.01 L897.09,206.22 L898.07,206.44 L899.04,206.65 L900.01,206.87 L900.99,207.08 L901.96,207.29 L902.94,207.51 L903.91,207.72 L904.89,207.93 L905.87,208.13 L906.84,208.34 L907.82,208.55 L908.80,208.75 L909.78,208.96 L910.76,209.16 L911.74,209.37 L912.72,209.57 L913.70,209.77 L914.69,209.97 L915.67,210.17 L916.65,210.37 L917.64,210.57 L918.62,210.76 L919.61,210.96 L920.60,211.15 L921.59,211.35 L922.57,211.54 L923.56,211.73 L924.55,211.92 L925.54,212.11 L926.53,212.30 L927.53,212.49 L928.52,212.68 L929.51,212.86 L930.51,213.05 L931.50,213.23 L932.50,213.42 L933.49,213.60 L934.49,213.78 L935.49,213.96 L936.49,214.14 L937.49,214.32 L938.49,214.49 L939.49,214.67 L940.49,214.85 L941.50,215.02 L942.50,215.19 L943.50,215.37 L944.51,215.54 L945.51,215.71 L946.52,215.88 L947.53,216.05 L948.53,216.22 L949.54,216.38 L950.55,216.55 L951.56,216.71 L952.57,216.88 L953.58,217.04 L954.59,217.20 L955.60,217.36 L956.61,217.52 L957.63,217.68 L958.64,217.84 L959.65,217.99 L960.67,218.15 L961.68,218.30 L962.70,218.46 L963.72,218.61 L964.73,218.76 L965.75,218.91 L966.77,219.06 L967.79,219.21 L968.81,219.36 L969.83,219.50 L970.84,219.65 L971.87,219.79 L972.89,219.94 L973.91,220.08 L974.93,220.22 L975.95,220.36 L976.97,220.50 L978.00,220.64 L979.02,220.78 L980.04,220.91 L981.07,221.05 L982.09,221.18 L983.12,221.31 L984.14,221.44 L985.17,221.58 L986.19,221.71 L987.22,221.83 L988.25,221.96 L989.27,222.09 L990.30,222.21 L991.33,222.34 L992.36,222.46 L993.38,222.58 L994.41,222.70 L995.44,222.82 L996.47,222.94 L997.50,223.06 L998.53,223.18 L999.56,223.29 L1000.59,223.41 L1001.62,223.52 L1002.65,223.63 L1003.68,223.75 L1004.71,223.86 L1005.74,223.97 L1006.78,224.07 L1007.81,224.18 L1008.84,224.29 L1009.87,224.39 L1010.90,224.50 L1011.94,224.60 L1012.97,224.70 L1014.00,224.80 L1015.03,224.90 L1016.07,225.00 L1017.10,225.09 L1018.13,225.19 L1019.17,225.29 L1020.20,225.38 L1021.23,225.47 L1022.27,225.56 L1023.30,225.65 L1024.33,225.74 L1025.37,225.83 L1026.40,225.92 L1027.43,226.00 L1028.47,226.09 L1029.50,226.17 L1030.53,226.26 L1031.57,226.34 L1032.60,226.42 L1033.64,226.50 L1034.67,226.57 L1035.70,226.65 L1036.74,226.73 L1037.77,226.80 L1038.80,226.87 L1039.84,226.95 L1040.87,227.02 L1041.90,227.09 L1042.94,227.16 L1043.97,227.22 L1045.00,227.29 L1046.04,227.35 L1047.07,227.42 L1048.10,227.48 L1049.13,227.54 L1050.17,227.60 L1051.20,227.66 L1052.23,227.72 L1053.26,227.78 L1054.29,227.83 L1055.32,227.89 L1056.36,227.94 L1057.39,227.99 L1058.42,228.04 L1059.45,228.09 L1060.48,228.14 L1061.51,228.19 L1062.54,228.24 L1063.57,228.28 L1064.60,228.33 L1065.63,228.37" fill="none" stroke="#5cdae2" stroke-width="1.6" stroke-dasharray="1.2,3.0,4.2,3.2" clip-path="url(#cr)"/>
<path d="M564.85,190.19 L565.40,189.63 L565.94,189.06 L566.46,188.49 L566.98,187.92 L567.49,187.35 L567.99,186.78 L568.49,186.20 L568.97,185.63 L569.45,185.05 L569.93,184.47 L570.40,183.89 L570.86,183.31 L571.32,182.72 L571.78,182.14 L572.23,181.55 L572.68,180.97 L573.13,180.38 L573.58,179.79 L574.03,179.20 L574.48,178.60 L574.93,178.01 L575.38,177.41 L575.83,176.81 L576.29,176.22 L576.75,175.62 L577.21,175.01 L577.68,174.41 L578.15,173.81 L578.63,173.20 L579.11,172.59 L579.60,171.98 L580.10,171.38 L580.60,170.77 L581.12,170.16 L581.64,169.56 L582.17,168.97 L582.72,168.37 L583.27,167.78 L583.84,167.20 L584.42,166.63 L585.01,166.06 L585.61,165.50 L586.23,164.95 L586.86,164.41 L587.51,163.88 L588.17,163.36 L588.85,162.86 L589.55,162.37 L590.26,161.89 L590.99,161.43 L591.74,160.99 L592.51,160.56 L593.29,160.15 L594.09,159.76 L594.91,159.38 L595.74,159.03 L596.58,158.70 L597.44,158.39 L598.31,158.10 L599.19,157.84 L600.09,157.60 L600.99,157.39 L601.91,157.20 L602.83,157.04 L603.77,156.91 L604.71,156.81 L605.66,156.74 L606.62,156.69 L607.59,156.68 L608.56,156.70 L609.53,156.75 L610.51,156.83 L611.50,156.94 L612.48,157.06 L613.47,157.22 L614.46,157.39 L615.45,157.58 L616.44,157.79 L617.43,158.01 L618.42,158.25 L619.40,158.50 L620.38,158.76 L621.36,159.02 L622.33,159.29 L623.29,159.57 L624.25,159.85 L625.20,160.13 L626.15,160.42 L627.09,160.71 L628.02,161.00 L628.95,161.30 L629.87,161.59 L630.79,161.90 L631.70,162.20 L632.61,162.50 L633.52,162.81 L634.42,163.12 L635.31,163.43 L636.21,163.75 L637.10,164.07 L637.98,164.39 L638.86,164.71 L639.74,165.03 L640.62,165.36 L641.49,165.68 L642.37,166.01 L643.24,166.34 L644.10,166.67 L644.97,167.01 L645.83,167.34 L646.70,167.68 L647.56,168.02 L648.42,168.36 L649.28,168.70 L650.14,169.04 L651.00,169.38 L651.86,169.72 L652.72,170.07 L653.58,170.41 L654.44,170.76 L655.30,171.10 L656.16,171.45 L657.02,171.80 L657.89,172.15 L658.75,172.49 L659.62,172.84 L660.48,173.19 L661.35,173.54 L662.22,173.89 L663.09,174.24 L663.96,174.59 L664.83,174.94 L665.71,175.29 L666.58,175.63 L667.46,175.98 L668.34,176.33 L669.22,176.68 L670.09,177.02 L670.98,177.37 L671.86,177.72 L672.74,178.06 L673.63,178.40 L674.51,178.75 L675.40,179.09 L676.29,179.43 L677.18,179.77 L678.07,180.11 L678.96,180.45 L679.86,180.78 L680.75,181.12 L681.65,181.45 L682.55,181.78 L683.45,182.11 L684.35,182.44 L685.26,182.76 L686.16,183.09 L687.07,183.41 L687.97,183.73 L688.88,184.05 L689.79,184.37 L690.71,184.68 L691.62,184.99 L692.54,185.30 L693.45,185.61 L694.37,185.91 L695.29,186.22 L696.21,186.52 L697.14,186.81 L698.06,187.11 L698.99,187.40 L699.92,187.69 L700.85,187.98 L701.78,188.27 L702.71,188.55 L703.64,188.83 L704.58,189.11 L705.52,189.39 L706.45,189.66 L707.39,189.94 L708.34,190.21 L709.28,190.48 L710.22,190.74 L711.17,191.01 L712.11,191.27 L713.06,191.53 L714.01,191.78 L714.96,192.04 L715.92,192.29 L716.87,192.55 L717.82,192.79 L718.78,193.04 L719.74,193.29 L720.70,193.53 L721.66,193.77 L722.62,194.01 L723.58,194.25 L724.54,194.48 L725.51,194.72 L726.48,194.95 L727.44,195.18 L728.41,195.41 L729.38,195.63 L730.35,195.86 L731.32,196.08 L732.30,196.30 L733.27,196.52 L734.25,196.74 L735.22,196.95 L736.20,197.16 L737.18,197.37 L738.16,197.58 L739.14,197.79 L740.12,198.00 L741.11,198.20 L742.09,198.41 L743.08,198.61 L744.06,198.81 L745.05,199.00 L746.04,199.20 L747.03,199.39 L748.02,199.59 L749.01,199.78 L750.00,199.97 L750.99,200.16 L751.99,200.34 L752.98,200.53 L753.98,200.71 L754.97,200.89 L755.97,201.07 L756.97,201.25 L757.97,201.43 L758.97,201.60 L759.97,201.78 L760.97,201.95 L761.97,202.12 L762.97,202.29 L763.98,202.46 L764.98,202.63 L765.99,202.79 L766.99,202.96 L768.00,203.12 L769.01,203.28 L770.02,203.44 L771.03,203.60 L772.04,203.76 L773.05,203.92 L774.06,204.07 L775.07,204.23 L776.08,204.38 L777.09,204.53 L778.11,204.68 L779.12,204.83 L780.14,204.98 L781.15,205.13 L782.17,205.27 L783.18,205.42 L784.20,205.56 L785.22,205.70 L786.24,205.84 L787.26,205.98 L788.28,206.12 L789.30,206.26 L790.32,206.40 L791.34,206.53 L792.36,206.67 L793.38,206.80 L794.40,206.93 L795.42,207.06 L796.45,207.19 L797.47,207.32 L798.49,207.45 L799.52,207.58 L800.54,207.71 L801.57,207.83 L802.59,207.96 L803.62,208.08 L804.64,208.21 L805.67,208.33 L806.70,208.45 L807.72,208.57 L808.75,208.69 L809.78,208.81 L810.81,208.93 L811.83,209.05 L812.86,209.17 L813.89,209.28 L814.92,209.40 L815.95,209.51 L816.98,209.63 L818.01,209.74 L819.04,209.85 L820.07,209.97 L821.10,210.08 L822.13,210.19 L823.16,210.30 L824.19,210.41 L825.22,210.52 L826.25,210.63 L827.28,210.73 L828.31,210.84 L829.34,210.95 L830.37,211.05 L831.40,211.16 L832.43,211.27 L833.46,211.37 L834.49,211.47 L835.52,211.58 L836.55,211.68 L837.58,211.78 L838.61,211.89 L839.64,211.99 L840.68,212.09 L841.71,212.19 L842.74,212.29 L843.77,212.39 L844.80,212.49 L845.83,212.59 L846.86,212.69 L847.89,212.79 L848.92,212.88 L849.95,212.98 L850.99,213.08 L852.02,213.17 L853.05,213.27 L854.08,213.36 L855.11,213.46 L856.14,213.55 L857.17,213.65 L858.21,213.74 L859.24,213.83 L860.27,213.92 L861.30,214.02 L862.33,214.11 L863.36,214.20 L864.40,214.29 L865.43,214.38 L866.46,214.47 L867.49,214.56 L868.52,214.65 L869.55,214.73 L870.59,214.82 L871.62,214.91 L872.65,215.00 L873.68,215.08 L874.72,215.17 L875.75,215.25 L876.78,215.34 L877.81,215.42 L878.84,215.51 L879.88,215.59 L880.91,215.67 L881.94,215.75 L882.97,215.84 L884.01,215.92 L885.04,216.00 L886.07,216.08 L887.10,216.16 L888.14,216.24 L889.17,216.32 L890.20,216.40 L891.24,216.48 L892.27,216.56 L893.30,216.63 L894.33,216.71 L895.37,216.79 L896.40,216.86 L897.43,216.94 L898.47,217.02 L899.50,217.09 L900.53,217.16 L901.57,217.24 L902.60,217.31 L903.63,217.39 L904.67,217.46 L905.70,217.53 L906.73,217.60 L907.77,217.68 L908.80,217.75 L909.84,217.82 L910.87,217.89 L911.90,217.96 L912.94,218.03 L913.97,218.10 L915.00,218.17 L916.04,218.23 L917.07,218.30 L918.11,218.37 L919.14,218.44 L920.18,218.50 L921.21,218.57 L922.24,218.63 L923.28,218.70 L924.31,218.76 L925.35,218.83 L926.38,218.89 L927.42,218.96 L928.45,219.02 L929.49,219.08 L930.52,219.15 L931.56,219.21 L932.59,219.27 L933.63,219.33 L934.66,219.39 L935.70,219.45 L936.73,219.51 L937.77,219.57 L938.80,219.63 L939.84,219.69 L940.87,219.75 L941.91,219.81 L942.94,219.87 L943.98,219.92 L945.02,219.98 L946.05,220.04 L947.09,220.09 L948.12,220.15 L949.16,220.20 L950.19,220.26 L951.23,220.31 L952.27,220.37 L953.30,220.42 L954.34,220.48 L955.38,220.53 L956.41,220.58 L957.45,220.63 L958.48,220.69 L959.52,220.74 L960.56,220.79 L961.59,220.84 L962.63,220.89 L963.67,220.94 L964.70,220.99 L965.74,221.04 L966.78,221.09 L967.82,221.14 L968.85,221.19 L969.89,221.24 L970.93,221.28 L971.96,221.33 L973.00,221.38 L974.04,221.42 L975.08,221.47 L976.11,221.52 L977.15,221.56 L978.19,221.61 L979.23,221.65 L980.27,221.70 L981.30,221.74 L982.34,221.78 L983.38,221.83 L984.42,221.87 L985.46,221.91 L986.49,221.96 L987.53,222.00 L988.57,222.04 L989.61,222.08 L990.65,222.12 L991.69,222.16 L992.73,222.20 L993.76,222.24 L994.80,222.28 L995.84,222.32 L996.88,222.36 L997.92,222.40 L998.96,222.44 L1000.00,222.48 L1001.04,222.51 L1002.08,222.55 L1003.12,222.59 L1004.16,222.62 L1005.20,222.66 L1006.24,222.70 L1007.27,222.73 L1008.31,222.77 L1009.35,222.80 L1010.39,222.84 L1011.43,222.87 L1012.47,222.91 L1013.52,222.94 L1014.56,222.97 L1015.60,223.01 L1016.64,223.04 L1017.68,223.07 L1018.72,223.10 L1019.76,223.14 L1020.80,223.17 L1021.84,223.20 L1022.88,223.23 L1023.92,223.26 L1024.96,223.29 L1026.00,223.32 L1027.05,223.35 L1028.09,223.38 L1029.13,223.41 L1030.17,223.44 L1031.21,223.47 L1032.25,223.49 L1033.29,223.52 L1034.34,223.55 L1035.38,223.58 L1036.42,223.60 L1037.46,223.63 L1038.50,223.66 L1039.55,223.68 L1040.59,223.71 L1041.63,223.73 L1042.67,223.76 L1043.72,223.78 L1044.76,223.81 L1045.80,223.83 L1046.85,223.86 L1047.89,223.88 L1048.93,223.90 L1049.97,223.93 L1051.02,223.95 L1052.06,223.97 L1053.10,223.99 L1054.15,224.02 L1055.19,224.04 L1056.23,224.06 L1057.28,224.08 L1058.32,224.10 L1059.37,224.12 L1060.41,224.14 L1061.45,224.16 L1062.50,224.18 L1063.54,224.20 L1064.59,224.22 L1065.63,224.24" fill="none" stroke="#c84ac6" stroke-width="1.6" stroke-dasharray="6.4,3.6" clip-path="url(#cr)"/>
<line x1="27.66" y1="7.30" x2="534.69" y2="7.30" stroke="#bcbcbc" stroke-width="1.3"/><line x1="534.69" y1="7.30" x2="534.69" y2="234.90" stroke="#dcdcdc" stroke-width="2.0"/><line x1="27.66" y1="234.90" x2="534.69" y2="234.90" stroke="#d2d2d2" stroke-width="2.0"/><line x1="27.66" y1="7.30" x2="27.66" y2="234.90" stroke="#e0e0e0" stroke-width="3.0"/>
<line x1="564.69" y1="7.30" x2="1065.78" y2="7.30" stroke="#bcbcbc" stroke-width="1.3"/><line x1="1065.78" y1="7.30" x2="1065.78" y2="234.90" stroke="#dcdcdc" stroke-width="2.0"/><line x1="564.69" y1="234.90" x2="1065.78" y2="234.90" stroke="#d2d2d2" stroke-width="2.0"/><line x1="564.69" y1="7.30" x2="564.69" y2="234.90" stroke="#bcbcbc" stroke-width="2.6"/>
<g stroke="#666" stroke-width="1.2"><line x1="27.66" y1="234.50" x2="27.66" y2="236.10"/><line x1="129.06" y1="234.50" x2="129.06" y2="236.10"/><line x1="230.47" y1="234.50" x2="230.47" y2="236.10"/><line x1="331.87" y1="234.50" x2="331.87" y2="236.10"/><line x1="433.28" y1="234.50" x2="433.28" y2="236.10"/><line x1="534.69" y1="234.50" x2="534.69" y2="236.10"/><line x1="564.69" y1="234.50" x2="564.69" y2="236.10"/><line x1="731.72" y1="234.50" x2="731.72" y2="236.10"/><line x1="898.75" y1="234.50" x2="898.75" y2="236.10"/><line x1="1065.78" y1="234.50" x2="1065.78" y2="236.10"/></g><g stroke="#666" stroke-width="0.7"><line x1="26.72" y1="189.03" x2="28.91" y2="189.03"/><line x1="26.72" y1="143.59" x2="28.91" y2="143.59"/><line x1="26.72" y1="98.16" x2="28.91" y2="98.16"/><line x1="26.72" y1="52.72" x2="28.91" y2="52.72"/><line x1="26.72" y1="7.29" x2="28.91" y2="7.29"/><line x1="563.75" y1="159.20" x2="565.94" y2="159.20"/><line x1="563.75" y1="83.30" x2="565.94" y2="83.30"/><line x1="563.75" y1="7.40" x2="565.94" y2="7.40"/></g>
<g font-family="Liberation Sans, sans-serif" font-size="8.2" fill="#3a3a3a" stroke="#3a3a3a" stroke-width="0.35"><text x="25.47" y="237.76" text-anchor="end">0.0</text><text x="25.47" y="192.33" text-anchor="end">0.1</text><text x="25.47" y="146.89" text-anchor="end">0.2</text><text x="25.47" y="101.46" text-anchor="end">0.3</text><text x="25.47" y="56.02" text-anchor="end">0.4</text><text x="25.47" y="10.59" text-anchor="end">0.5</text><text x="562.81" y="238.40" text-anchor="end">0.0</text><text x="562.81" y="162.50" text-anchor="end">0.5</text><text x="562.81" y="86.60" text-anchor="end">1.0</text><text x="562.81" y="10.70" text-anchor="end">1.5</text><text x="27.66" y="243.7" text-anchor="middle">0</text><text x="129.06" y="243.7" text-anchor="middle">1</text><text x="230.47" y="243.7" text-anchor="middle">2</text><text x="331.87" y="243.7" text-anchor="middle">3</text><text x="433.28" y="243.7" text-anchor="middle">4</text><text x="534.69" y="243.7" text-anchor="middle">5</text><text x="564.69" y="243.7" text-anchor="middle">0</text><text x="731.72" y="243.7" text-anchor="middle">1</text><text x="898.75" y="243.7" text-anchor="middle">2</text><text x="1065.78" y="243.7" text-anchor="middle">3</text></g>
<text x="281.25" y="253" text-anchor="middle" font-family="Liberation Sans, sans-serif" font-style="italic" font-size="8.4" fill="#333" stroke="#333" stroke-width="0.4">X</text>
<text x="815.00" y="253" text-anchor="middle" font-family="Liberation Sans, sans-serif" font-style="italic" font-size="8.4" fill="#333" stroke="#333" stroke-width="0.4">X</text>
<text transform="translate(11.72,120.6) rotate(-90)" text-anchor="middle" font-family="Liberation Sans, sans-serif" font-weight="bold" font-size="10.4" fill="#111">OPLx PDF</text>
<text transform="translate(548.28,120.6) rotate(-90)" text-anchor="middle" font-family="Liberation Sans, sans-serif" font-weight="bold" font-size="10.4" fill="#111">OPLx PDF</text>
<rect x="355.16" y="19.80" width="105.00" height="65.40" fill="#fff" stroke="#d0d0d0" stroke-width="1.3"/><line x1="355.16" y1="85.20" x2="460.16" y2="85.20" stroke="#ababab" stroke-width="1"/><line x1="460.16" y1="19.80" x2="460.16" y2="85.20" stroke="#ababab" stroke-width="1"/><line x1="358.91" y1="32.50" x2="371.88" y2="32.50" stroke="#e06e88" stroke-width="1.5"/><text x="376.25" y="35.10" font-family="Liberation Sans, sans-serif" font-size="7.6" letter-spacing="0.0" fill="#3a3a3a" stroke="#3a3a3a" stroke-width="0.3">α=1.75,β=1,θ=3.5,ζ=0.5</text><line x1="358.91" y1="44.00" x2="371.88" y2="44.00" stroke="#80d676" stroke-width="1.5" stroke-dasharray="4.4,3.9"/><text x="376.25" y="46.60" font-family="Liberation Sans, sans-serif" font-size="7.6" letter-spacing="0.0" fill="#3a3a3a" stroke="#3a3a3a" stroke-width="0.3">α=10,β=8,θ=7,ζ=1.5</text><line x1="358.91" y1="55.30" x2="371.88" y2="55.30" stroke="#78b6e6" stroke-width="1.6" stroke-dasharray="1.3,2.95"/><text x="376.25" y="57.90" font-family="Liberation Sans, sans-serif" font-size="7.6" letter-spacing="0.0" fill="#3a3a3a" stroke="#3a3a3a" stroke-width="0.3">α=5.5,β=0.5,θ=0.7,ζ=0.1</text><line x1="358.91" y1="66.50" x2="371.88" y2="66.50" stroke="#5cdae2" stroke-width="1.6" stroke-dasharray="1.2,3.0,4.2,3.2"/><text x="376.25" y="69.10" font-family="Liberation Sans, sans-serif" font-size="7.6" letter-spacing="0.0" fill="#3a3a3a" stroke="#3a3a3a" stroke-width="0.3">α=5.5,β=1.5,θ=6,ζ=0.1</text><line x1="358.91" y1="77.60" x2="371.88" y2="77.60" stroke="#c84ac6" stroke-width="1.6" stroke-dasharray="6.4,3.6"/><text x="376.25" y="80.20" font-family="Liberation Sans, sans-serif" font-size="7.6" letter-spacing="0.0" fill="#3a3a3a" stroke="#3a3a3a" stroke-width="0.3">α=8,β=3,θ=6,ζ=0.1</text>
<rect x="883.91" y="8.60" width="112.03" height="65.30" fill="#fff" stroke="#d0d0d0" stroke-width="1.3"/><line x1="883.91" y1="73.90" x2="995.94" y2="73.90" stroke="#ababab" stroke-width="1"/><line x1="995.94" y1="8.60" x2="995.94" y2="73.90" stroke="#ababab" stroke-width="1"/><line x1="887.66" y1="21.40" x2="900.78" y2="21.40" stroke="#e06e88" stroke-width="1.5"/><text x="904.84" y="24.00" font-family="Liberation Sans, sans-serif" font-size="7.6" letter-spacing="-0.08" fill="#3a3a3a" stroke="#3a3a3a" stroke-width="0.3">α=0.5,β=2.5,θ=0.5,ζ=7.5</text><line x1="887.66" y1="32.60" x2="900.78" y2="32.60" stroke="#80d676" stroke-width="1.5" stroke-dasharray="4.4,3.9"/><text x="904.84" y="35.20" font-family="Liberation Sans, sans-serif" font-size="7.6" letter-spacing="-0.08" fill="#3a3a3a" stroke="#3a3a3a" stroke-width="0.3">α=0.75,β=0.75,θ=2.5,ζ=2.5</text><line x1="887.66" y1="44.10" x2="900.78" y2="44.10" stroke="#78b6e6" stroke-width="1.6" stroke-dasharray="1.3,2.95"/><text x="904.84" y="46.70" font-family="Liberation Sans, sans-serif" font-size="7.6" letter-spacing="-0.08" fill="#3a3a3a" stroke="#3a3a3a" stroke-width="0.3">α=1.5,β=0.25,θ=0.25,ζ=0.5</text><line x1="887.66" y1="55.00" x2="900.78" y2="55.00" stroke="#5cdae2" stroke-width="1.6" stroke-dasharray="1.2,3.0,4.2,3.2"/><text x="904.84" y="57.60" font-family="Liberation Sans, sans-serif" font-size="7.6" letter-spacing="-0.08" fill="#3a3a3a" stroke="#3a3a3a" stroke-width="0.3">α=10,β=7,θ=5,ζ=1.75</text><line x1="887.66" y1="66.40" x2="900.78" y2="66.40" stroke="#c84ac6" stroke-width="1.6" stroke-dasharray="6.4,3.6"/><text x="904.84" y="69.00" font-family="Liberation Sans, sans-serif" font-size="7.6" letter-spacing="-0.08" fill="#3a3a3a" stroke="#3a3a3a" stroke-width="0.3">α=7.5,β=0.75,θ=3.5,ζ=0.1</text>
</svg>
</body></html>
